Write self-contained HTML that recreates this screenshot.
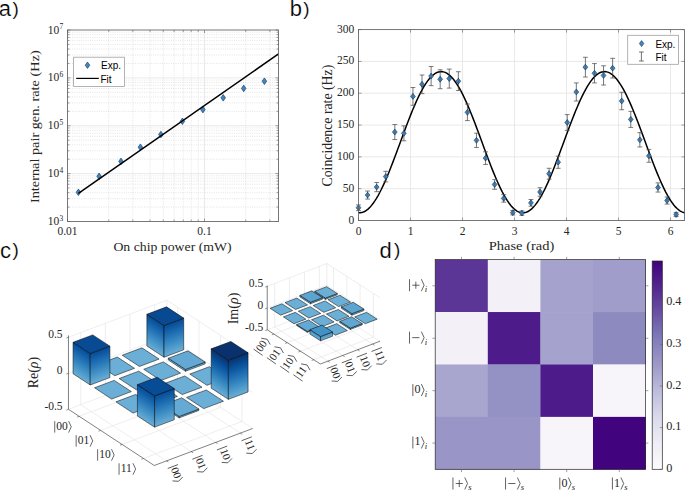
<!DOCTYPE html>
<html><head><meta charset="utf-8"><style>
html,body{margin:0;padding:0;background:#fff;overflow:hidden;}
svg{display:block;}

</style></head><body>
<svg width="685" height="490" viewBox="0 0 685 490">
<text x="-1.20" y="15.80" font-size="22" text-anchor="start" font-family="Liberation Sans, sans-serif" fill="#000"  stroke="#fff" stroke-width="0.2">a</text>
<text x="12.50" y="14.50" font-size="19" text-anchor="start" font-family="Liberation Sans, sans-serif" fill="#000"  stroke="#fff" stroke-width="0.15">)</text>
<text x="289.70" y="15.80" font-size="22" text-anchor="start" font-family="Liberation Sans, sans-serif" fill="#000"  stroke="#fff" stroke-width="0.2">b</text>
<text x="303.20" y="14.50" font-size="19" text-anchor="start" font-family="Liberation Sans, sans-serif" fill="#000"  stroke="#fff" stroke-width="0.15">)</text>
<text x="0.00" y="258.10" font-size="22" text-anchor="start" font-family="Liberation Sans, sans-serif" fill="#000"  stroke="#fff" stroke-width="0.2">c</text>
<text x="12.50" y="256.30" font-size="19" text-anchor="start" font-family="Liberation Sans, sans-serif" fill="#000"  stroke="#fff" stroke-width="0.15">)</text>
<text x="379.50" y="257.60" font-size="22" text-anchor="start" font-family="Liberation Sans, sans-serif" fill="#000"  stroke="#fff" stroke-width="0.2">d</text>
<text x="394.00" y="256.30" font-size="19" text-anchor="start" font-family="Liberation Sans, sans-serif" fill="#000"  stroke="#fff" stroke-width="0.15">)</text>
<line x1="67.50" y1="207.09" x2="278.50" y2="207.09" stroke="#d4d4d4" stroke-width="0.6" stroke-dasharray="1,1.25"/>
<line x1="67.50" y1="198.66" x2="278.50" y2="198.66" stroke="#d4d4d4" stroke-width="0.6" stroke-dasharray="1,1.25"/>
<line x1="67.50" y1="192.68" x2="278.50" y2="192.68" stroke="#d4d4d4" stroke-width="0.6" stroke-dasharray="1,1.25"/>
<line x1="67.50" y1="188.04" x2="278.50" y2="188.04" stroke="#d4d4d4" stroke-width="0.6" stroke-dasharray="1,1.25"/>
<line x1="67.50" y1="184.25" x2="278.50" y2="184.25" stroke="#d4d4d4" stroke-width="0.6" stroke-dasharray="1,1.25"/>
<line x1="67.50" y1="181.04" x2="278.50" y2="181.04" stroke="#d4d4d4" stroke-width="0.6" stroke-dasharray="1,1.25"/>
<line x1="67.50" y1="178.26" x2="278.50" y2="178.26" stroke="#d4d4d4" stroke-width="0.6" stroke-dasharray="1,1.25"/>
<line x1="67.50" y1="175.82" x2="278.50" y2="175.82" stroke="#d4d4d4" stroke-width="0.6" stroke-dasharray="1,1.25"/>
<line x1="67.50" y1="159.21" x2="278.50" y2="159.21" stroke="#d4d4d4" stroke-width="0.6" stroke-dasharray="1,1.25"/>
<line x1="67.50" y1="150.78" x2="278.50" y2="150.78" stroke="#d4d4d4" stroke-width="0.6" stroke-dasharray="1,1.25"/>
<line x1="67.50" y1="144.80" x2="278.50" y2="144.80" stroke="#d4d4d4" stroke-width="0.6" stroke-dasharray="1,1.25"/>
<line x1="67.50" y1="140.16" x2="278.50" y2="140.16" stroke="#d4d4d4" stroke-width="0.6" stroke-dasharray="1,1.25"/>
<line x1="67.50" y1="136.37" x2="278.50" y2="136.37" stroke="#d4d4d4" stroke-width="0.6" stroke-dasharray="1,1.25"/>
<line x1="67.50" y1="133.17" x2="278.50" y2="133.17" stroke="#d4d4d4" stroke-width="0.6" stroke-dasharray="1,1.25"/>
<line x1="67.50" y1="130.39" x2="278.50" y2="130.39" stroke="#d4d4d4" stroke-width="0.6" stroke-dasharray="1,1.25"/>
<line x1="67.50" y1="127.94" x2="278.50" y2="127.94" stroke="#d4d4d4" stroke-width="0.6" stroke-dasharray="1,1.25"/>
<line x1="67.50" y1="111.34" x2="278.50" y2="111.34" stroke="#d4d4d4" stroke-width="0.6" stroke-dasharray="1,1.25"/>
<line x1="67.50" y1="102.91" x2="278.50" y2="102.91" stroke="#d4d4d4" stroke-width="0.6" stroke-dasharray="1,1.25"/>
<line x1="67.50" y1="96.93" x2="278.50" y2="96.93" stroke="#d4d4d4" stroke-width="0.6" stroke-dasharray="1,1.25"/>
<line x1="67.50" y1="92.29" x2="278.50" y2="92.29" stroke="#d4d4d4" stroke-width="0.6" stroke-dasharray="1,1.25"/>
<line x1="67.50" y1="88.50" x2="278.50" y2="88.50" stroke="#d4d4d4" stroke-width="0.6" stroke-dasharray="1,1.25"/>
<line x1="67.50" y1="85.29" x2="278.50" y2="85.29" stroke="#d4d4d4" stroke-width="0.6" stroke-dasharray="1,1.25"/>
<line x1="67.50" y1="82.51" x2="278.50" y2="82.51" stroke="#d4d4d4" stroke-width="0.6" stroke-dasharray="1,1.25"/>
<line x1="67.50" y1="80.07" x2="278.50" y2="80.07" stroke="#d4d4d4" stroke-width="0.6" stroke-dasharray="1,1.25"/>
<line x1="67.50" y1="63.46" x2="278.50" y2="63.46" stroke="#d4d4d4" stroke-width="0.6" stroke-dasharray="1,1.25"/>
<line x1="67.50" y1="55.03" x2="278.50" y2="55.03" stroke="#d4d4d4" stroke-width="0.6" stroke-dasharray="1,1.25"/>
<line x1="67.50" y1="49.05" x2="278.50" y2="49.05" stroke="#d4d4d4" stroke-width="0.6" stroke-dasharray="1,1.25"/>
<line x1="67.50" y1="44.41" x2="278.50" y2="44.41" stroke="#d4d4d4" stroke-width="0.6" stroke-dasharray="1,1.25"/>
<line x1="67.50" y1="40.62" x2="278.50" y2="40.62" stroke="#d4d4d4" stroke-width="0.6" stroke-dasharray="1,1.25"/>
<line x1="67.50" y1="37.42" x2="278.50" y2="37.42" stroke="#d4d4d4" stroke-width="0.6" stroke-dasharray="1,1.25"/>
<line x1="67.50" y1="34.64" x2="278.50" y2="34.64" stroke="#d4d4d4" stroke-width="0.6" stroke-dasharray="1,1.25"/>
<line x1="67.50" y1="32.19" x2="278.50" y2="32.19" stroke="#d4d4d4" stroke-width="0.6" stroke-dasharray="1,1.25"/>
<line x1="108.74" y1="30.00" x2="108.74" y2="221.50" stroke="#d4d4d4" stroke-width="0.6" stroke-dasharray="1,1.25"/>
<line x1="132.87" y1="30.00" x2="132.87" y2="221.50" stroke="#d4d4d4" stroke-width="0.6" stroke-dasharray="1,1.25"/>
<line x1="149.98" y1="30.00" x2="149.98" y2="221.50" stroke="#d4d4d4" stroke-width="0.6" stroke-dasharray="1,1.25"/>
<line x1="163.26" y1="30.00" x2="163.26" y2="221.50" stroke="#d4d4d4" stroke-width="0.6" stroke-dasharray="1,1.25"/>
<line x1="174.11" y1="30.00" x2="174.11" y2="221.50" stroke="#d4d4d4" stroke-width="0.6" stroke-dasharray="1,1.25"/>
<line x1="183.28" y1="30.00" x2="183.28" y2="221.50" stroke="#d4d4d4" stroke-width="0.6" stroke-dasharray="1,1.25"/>
<line x1="191.22" y1="30.00" x2="191.22" y2="221.50" stroke="#d4d4d4" stroke-width="0.6" stroke-dasharray="1,1.25"/>
<line x1="198.23" y1="30.00" x2="198.23" y2="221.50" stroke="#d4d4d4" stroke-width="0.6" stroke-dasharray="1,1.25"/>
<line x1="245.74" y1="30.00" x2="245.74" y2="221.50" stroke="#d4d4d4" stroke-width="0.6" stroke-dasharray="1,1.25"/>
<line x1="269.87" y1="30.00" x2="269.87" y2="221.50" stroke="#d4d4d4" stroke-width="0.6" stroke-dasharray="1,1.25"/>
<line x1="67.50" y1="173.62" x2="278.50" y2="173.62" stroke="#e3e3e3" stroke-width="0.8" />
<line x1="67.50" y1="125.75" x2="278.50" y2="125.75" stroke="#e3e3e3" stroke-width="0.8" />
<line x1="67.50" y1="77.88" x2="278.50" y2="77.88" stroke="#e3e3e3" stroke-width="0.8" />
<line x1="204.50" y1="30.00" x2="204.50" y2="221.50" stroke="#e3e3e3" stroke-width="0.8" />
<line x1="67.50" y1="221.50" x2="70.50" y2="221.50" stroke="#606060" stroke-width="0.6" />
<line x1="278.50" y1="221.50" x2="275.50" y2="221.50" stroke="#606060" stroke-width="0.6" />
<line x1="67.50" y1="207.09" x2="69.50" y2="207.09" stroke="#606060" stroke-width="0.6" />
<line x1="278.50" y1="207.09" x2="276.50" y2="207.09" stroke="#606060" stroke-width="0.6" />
<line x1="67.50" y1="198.66" x2="69.50" y2="198.66" stroke="#606060" stroke-width="0.6" />
<line x1="278.50" y1="198.66" x2="276.50" y2="198.66" stroke="#606060" stroke-width="0.6" />
<line x1="67.50" y1="192.68" x2="69.50" y2="192.68" stroke="#606060" stroke-width="0.6" />
<line x1="278.50" y1="192.68" x2="276.50" y2="192.68" stroke="#606060" stroke-width="0.6" />
<line x1="67.50" y1="188.04" x2="69.50" y2="188.04" stroke="#606060" stroke-width="0.6" />
<line x1="278.50" y1="188.04" x2="276.50" y2="188.04" stroke="#606060" stroke-width="0.6" />
<line x1="67.50" y1="184.25" x2="69.50" y2="184.25" stroke="#606060" stroke-width="0.6" />
<line x1="278.50" y1="184.25" x2="276.50" y2="184.25" stroke="#606060" stroke-width="0.6" />
<line x1="67.50" y1="181.04" x2="69.50" y2="181.04" stroke="#606060" stroke-width="0.6" />
<line x1="278.50" y1="181.04" x2="276.50" y2="181.04" stroke="#606060" stroke-width="0.6" />
<line x1="67.50" y1="178.26" x2="69.50" y2="178.26" stroke="#606060" stroke-width="0.6" />
<line x1="278.50" y1="178.26" x2="276.50" y2="178.26" stroke="#606060" stroke-width="0.6" />
<line x1="67.50" y1="175.82" x2="69.50" y2="175.82" stroke="#606060" stroke-width="0.6" />
<line x1="278.50" y1="175.82" x2="276.50" y2="175.82" stroke="#606060" stroke-width="0.6" />
<line x1="67.50" y1="173.62" x2="70.50" y2="173.62" stroke="#606060" stroke-width="0.6" />
<line x1="278.50" y1="173.62" x2="275.50" y2="173.62" stroke="#606060" stroke-width="0.6" />
<line x1="67.50" y1="159.21" x2="69.50" y2="159.21" stroke="#606060" stroke-width="0.6" />
<line x1="278.50" y1="159.21" x2="276.50" y2="159.21" stroke="#606060" stroke-width="0.6" />
<line x1="67.50" y1="150.78" x2="69.50" y2="150.78" stroke="#606060" stroke-width="0.6" />
<line x1="278.50" y1="150.78" x2="276.50" y2="150.78" stroke="#606060" stroke-width="0.6" />
<line x1="67.50" y1="144.80" x2="69.50" y2="144.80" stroke="#606060" stroke-width="0.6" />
<line x1="278.50" y1="144.80" x2="276.50" y2="144.80" stroke="#606060" stroke-width="0.6" />
<line x1="67.50" y1="140.16" x2="69.50" y2="140.16" stroke="#606060" stroke-width="0.6" />
<line x1="278.50" y1="140.16" x2="276.50" y2="140.16" stroke="#606060" stroke-width="0.6" />
<line x1="67.50" y1="136.37" x2="69.50" y2="136.37" stroke="#606060" stroke-width="0.6" />
<line x1="278.50" y1="136.37" x2="276.50" y2="136.37" stroke="#606060" stroke-width="0.6" />
<line x1="67.50" y1="133.17" x2="69.50" y2="133.17" stroke="#606060" stroke-width="0.6" />
<line x1="278.50" y1="133.17" x2="276.50" y2="133.17" stroke="#606060" stroke-width="0.6" />
<line x1="67.50" y1="130.39" x2="69.50" y2="130.39" stroke="#606060" stroke-width="0.6" />
<line x1="278.50" y1="130.39" x2="276.50" y2="130.39" stroke="#606060" stroke-width="0.6" />
<line x1="67.50" y1="127.94" x2="69.50" y2="127.94" stroke="#606060" stroke-width="0.6" />
<line x1="278.50" y1="127.94" x2="276.50" y2="127.94" stroke="#606060" stroke-width="0.6" />
<line x1="67.50" y1="125.75" x2="70.50" y2="125.75" stroke="#606060" stroke-width="0.6" />
<line x1="278.50" y1="125.75" x2="275.50" y2="125.75" stroke="#606060" stroke-width="0.6" />
<line x1="67.50" y1="111.34" x2="69.50" y2="111.34" stroke="#606060" stroke-width="0.6" />
<line x1="278.50" y1="111.34" x2="276.50" y2="111.34" stroke="#606060" stroke-width="0.6" />
<line x1="67.50" y1="102.91" x2="69.50" y2="102.91" stroke="#606060" stroke-width="0.6" />
<line x1="278.50" y1="102.91" x2="276.50" y2="102.91" stroke="#606060" stroke-width="0.6" />
<line x1="67.50" y1="96.93" x2="69.50" y2="96.93" stroke="#606060" stroke-width="0.6" />
<line x1="278.50" y1="96.93" x2="276.50" y2="96.93" stroke="#606060" stroke-width="0.6" />
<line x1="67.50" y1="92.29" x2="69.50" y2="92.29" stroke="#606060" stroke-width="0.6" />
<line x1="278.50" y1="92.29" x2="276.50" y2="92.29" stroke="#606060" stroke-width="0.6" />
<line x1="67.50" y1="88.50" x2="69.50" y2="88.50" stroke="#606060" stroke-width="0.6" />
<line x1="278.50" y1="88.50" x2="276.50" y2="88.50" stroke="#606060" stroke-width="0.6" />
<line x1="67.50" y1="85.29" x2="69.50" y2="85.29" stroke="#606060" stroke-width="0.6" />
<line x1="278.50" y1="85.29" x2="276.50" y2="85.29" stroke="#606060" stroke-width="0.6" />
<line x1="67.50" y1="82.51" x2="69.50" y2="82.51" stroke="#606060" stroke-width="0.6" />
<line x1="278.50" y1="82.51" x2="276.50" y2="82.51" stroke="#606060" stroke-width="0.6" />
<line x1="67.50" y1="80.07" x2="69.50" y2="80.07" stroke="#606060" stroke-width="0.6" />
<line x1="278.50" y1="80.07" x2="276.50" y2="80.07" stroke="#606060" stroke-width="0.6" />
<line x1="67.50" y1="77.88" x2="70.50" y2="77.88" stroke="#606060" stroke-width="0.6" />
<line x1="278.50" y1="77.88" x2="275.50" y2="77.88" stroke="#606060" stroke-width="0.6" />
<line x1="67.50" y1="63.46" x2="69.50" y2="63.46" stroke="#606060" stroke-width="0.6" />
<line x1="278.50" y1="63.46" x2="276.50" y2="63.46" stroke="#606060" stroke-width="0.6" />
<line x1="67.50" y1="55.03" x2="69.50" y2="55.03" stroke="#606060" stroke-width="0.6" />
<line x1="278.50" y1="55.03" x2="276.50" y2="55.03" stroke="#606060" stroke-width="0.6" />
<line x1="67.50" y1="49.05" x2="69.50" y2="49.05" stroke="#606060" stroke-width="0.6" />
<line x1="278.50" y1="49.05" x2="276.50" y2="49.05" stroke="#606060" stroke-width="0.6" />
<line x1="67.50" y1="44.41" x2="69.50" y2="44.41" stroke="#606060" stroke-width="0.6" />
<line x1="278.50" y1="44.41" x2="276.50" y2="44.41" stroke="#606060" stroke-width="0.6" />
<line x1="67.50" y1="40.62" x2="69.50" y2="40.62" stroke="#606060" stroke-width="0.6" />
<line x1="278.50" y1="40.62" x2="276.50" y2="40.62" stroke="#606060" stroke-width="0.6" />
<line x1="67.50" y1="37.42" x2="69.50" y2="37.42" stroke="#606060" stroke-width="0.6" />
<line x1="278.50" y1="37.42" x2="276.50" y2="37.42" stroke="#606060" stroke-width="0.6" />
<line x1="67.50" y1="34.64" x2="69.50" y2="34.64" stroke="#606060" stroke-width="0.6" />
<line x1="278.50" y1="34.64" x2="276.50" y2="34.64" stroke="#606060" stroke-width="0.6" />
<line x1="67.50" y1="32.19" x2="69.50" y2="32.19" stroke="#606060" stroke-width="0.6" />
<line x1="278.50" y1="32.19" x2="276.50" y2="32.19" stroke="#606060" stroke-width="0.6" />
<line x1="67.50" y1="30.00" x2="70.50" y2="30.00" stroke="#606060" stroke-width="0.6" />
<line x1="278.50" y1="30.00" x2="275.50" y2="30.00" stroke="#606060" stroke-width="0.6" />
<line x1="67.50" y1="221.50" x2="67.50" y2="218.50" stroke="#606060" stroke-width="0.6" />
<line x1="67.50" y1="30.00" x2="67.50" y2="33.00" stroke="#606060" stroke-width="0.6" />
<line x1="108.74" y1="221.50" x2="108.74" y2="219.50" stroke="#606060" stroke-width="0.6" />
<line x1="108.74" y1="30.00" x2="108.74" y2="32.00" stroke="#606060" stroke-width="0.6" />
<line x1="132.87" y1="221.50" x2="132.87" y2="219.50" stroke="#606060" stroke-width="0.6" />
<line x1="132.87" y1="30.00" x2="132.87" y2="32.00" stroke="#606060" stroke-width="0.6" />
<line x1="149.98" y1="221.50" x2="149.98" y2="219.50" stroke="#606060" stroke-width="0.6" />
<line x1="149.98" y1="30.00" x2="149.98" y2="32.00" stroke="#606060" stroke-width="0.6" />
<line x1="163.26" y1="221.50" x2="163.26" y2="219.50" stroke="#606060" stroke-width="0.6" />
<line x1="163.26" y1="30.00" x2="163.26" y2="32.00" stroke="#606060" stroke-width="0.6" />
<line x1="174.11" y1="221.50" x2="174.11" y2="219.50" stroke="#606060" stroke-width="0.6" />
<line x1="174.11" y1="30.00" x2="174.11" y2="32.00" stroke="#606060" stroke-width="0.6" />
<line x1="183.28" y1="221.50" x2="183.28" y2="219.50" stroke="#606060" stroke-width="0.6" />
<line x1="183.28" y1="30.00" x2="183.28" y2="32.00" stroke="#606060" stroke-width="0.6" />
<line x1="191.22" y1="221.50" x2="191.22" y2="219.50" stroke="#606060" stroke-width="0.6" />
<line x1="191.22" y1="30.00" x2="191.22" y2="32.00" stroke="#606060" stroke-width="0.6" />
<line x1="198.23" y1="221.50" x2="198.23" y2="219.50" stroke="#606060" stroke-width="0.6" />
<line x1="198.23" y1="30.00" x2="198.23" y2="32.00" stroke="#606060" stroke-width="0.6" />
<line x1="204.50" y1="221.50" x2="204.50" y2="218.50" stroke="#606060" stroke-width="0.6" />
<line x1="204.50" y1="30.00" x2="204.50" y2="33.00" stroke="#606060" stroke-width="0.6" />
<line x1="245.74" y1="221.50" x2="245.74" y2="219.50" stroke="#606060" stroke-width="0.6" />
<line x1="245.74" y1="30.00" x2="245.74" y2="32.00" stroke="#606060" stroke-width="0.6" />
<line x1="269.87" y1="221.50" x2="269.87" y2="219.50" stroke="#606060" stroke-width="0.6" />
<line x1="269.87" y1="30.00" x2="269.87" y2="32.00" stroke="#606060" stroke-width="0.6" />
<path d="M78.40,189.00 L80.70,192.30 L78.40,195.60 L76.10,192.30 Z" fill="#3b88c8" stroke="#1a3048" stroke-width="0.6"/>
<path d="M99.10,173.00 L101.40,176.30 L99.10,179.60 L96.80,176.30 Z" fill="#3b88c8" stroke="#1a3048" stroke-width="0.6"/>
<path d="M121.00,158.10 L123.30,161.40 L121.00,164.70 L118.70,161.40 Z" fill="#3b88c8" stroke="#1a3048" stroke-width="0.6"/>
<path d="M140.40,143.90 L142.70,147.20 L140.40,150.50 L138.10,147.20 Z" fill="#3b88c8" stroke="#1a3048" stroke-width="0.6"/>
<path d="M160.90,131.20 L163.20,134.50 L160.90,137.80 L158.60,134.50 Z" fill="#3b88c8" stroke="#1a3048" stroke-width="0.6"/>
<path d="M182.40,118.00 L184.70,121.30 L182.40,124.60 L180.10,121.30 Z" fill="#3b88c8" stroke="#1a3048" stroke-width="0.6"/>
<path d="M202.90,106.30 L205.20,109.60 L202.90,112.90 L200.60,109.60 Z" fill="#3b88c8" stroke="#1a3048" stroke-width="0.6"/>
<path d="M223.20,94.50 L225.50,97.80 L223.20,101.10 L220.90,97.80 Z" fill="#3b88c8" stroke="#1a3048" stroke-width="0.6"/>
<path d="M243.70,85.10 L246.00,88.40 L243.70,91.70 L241.40,88.40 Z" fill="#3b88c8" stroke="#1a3048" stroke-width="0.6"/>
<path d="M264.40,77.90 L266.70,81.20 L264.40,84.50 L262.10,81.20 Z" fill="#3b88c8" stroke="#1a3048" stroke-width="0.6"/>
<line x1="78.4" y1="193.3" x2="278.50" y2="53.9" stroke="#000" stroke-width="1.5"/>
<rect x="67.5" y="30.0" width="211.0" height="191.5" fill="none" stroke="#606060" stroke-width="0.85"/>
<rect x="73.6" y="57.2" width="50.8" height="29.2" fill="#fff" stroke="#a0a0a0" stroke-width="0.8"/>
<path d="M87.50,62.00 L89.80,65.20 L87.50,68.40 L85.20,65.20 Z" fill="#3b88c8" stroke="#1a3048" stroke-width="0.6"/>
<line x1="76.20" y1="78.40" x2="98.80" y2="78.40" stroke="#000" stroke-width="1.2" />
<text x="101.00" y="69.20" font-size="10" text-anchor="start" font-family="Liberation Sans, sans-serif" fill="#000"  >Exp.</text>
<text x="100.50" y="82.50" font-size="10" text-anchor="start" font-family="Liberation Sans, sans-serif" fill="#000"  >Fit</text>
<text x="47.80" y="225.10" font-size="11.5" text-anchor="start" font-family="Liberation Serif, serif" fill="#262626" stroke="#262626" stroke-width="0.0" >10</text>
<text x="59.40" y="220.90" font-size="7.5" text-anchor="start" font-family="Liberation Serif, serif" fill="#262626" stroke="#262626" stroke-width="0.0" >3</text>
<text x="47.80" y="177.22" font-size="11.5" text-anchor="start" font-family="Liberation Serif, serif" fill="#262626" stroke="#262626" stroke-width="0.0" >10</text>
<text x="59.40" y="173.03" font-size="7.5" text-anchor="start" font-family="Liberation Serif, serif" fill="#262626" stroke="#262626" stroke-width="0.0" >4</text>
<text x="47.80" y="129.35" font-size="11.5" text-anchor="start" font-family="Liberation Serif, serif" fill="#262626" stroke="#262626" stroke-width="0.0" >10</text>
<text x="59.40" y="125.15" font-size="7.5" text-anchor="start" font-family="Liberation Serif, serif" fill="#262626" stroke="#262626" stroke-width="0.0" >5</text>
<text x="47.80" y="81.47" font-size="11.5" text-anchor="start" font-family="Liberation Serif, serif" fill="#262626" stroke="#262626" stroke-width="0.0" >10</text>
<text x="59.40" y="77.28" font-size="7.5" text-anchor="start" font-family="Liberation Serif, serif" fill="#262626" stroke="#262626" stroke-width="0.0" >6</text>
<text x="47.80" y="33.60" font-size="11.5" text-anchor="start" font-family="Liberation Serif, serif" fill="#262626" stroke="#262626" stroke-width="0.0" >10</text>
<text x="59.40" y="29.40" font-size="7.5" text-anchor="start" font-family="Liberation Serif, serif" fill="#262626" stroke="#262626" stroke-width="0.0" >7</text>
<text x="67.50" y="235.30" font-size="11.5" text-anchor="middle" font-family="Liberation Serif, serif" fill="#262626" stroke="#262626" stroke-width="0.0" >0.01</text>
<text x="204.50" y="235.30" font-size="11.5" text-anchor="middle" font-family="Liberation Serif, serif" fill="#262626" stroke="#262626" stroke-width="0.0" >0.1</text>
<text x="0" y="0" font-size="13.3" text-anchor="middle" font-family="Liberation Serif, serif" fill="#262626" transform="translate(172.50,251.40) rotate(0) scale(1.037,1)">On chip power (mW)</text>
<text x="0" y="0" font-size="13.3" text-anchor="middle" font-family="Liberation Serif, serif" fill="#262626" transform="translate(39.30,126.70) rotate(-90) scale(1.075,1)">Internal pair gen. rate (Hz)</text>
<line x1="358.50" y1="188.68" x2="684.50" y2="188.68" stroke="#e3e3e3" stroke-width="0.8" />
<line x1="358.50" y1="156.87" x2="684.50" y2="156.87" stroke="#e3e3e3" stroke-width="0.8" />
<line x1="358.50" y1="125.05" x2="684.50" y2="125.05" stroke="#e3e3e3" stroke-width="0.8" />
<line x1="358.50" y1="93.23" x2="684.50" y2="93.23" stroke="#e3e3e3" stroke-width="0.8" />
<line x1="358.50" y1="61.42" x2="684.50" y2="61.42" stroke="#e3e3e3" stroke-width="0.8" />
<line x1="410.50" y1="29.60" x2="410.50" y2="220.50" stroke="#e3e3e3" stroke-width="0.8" />
<line x1="462.50" y1="29.60" x2="462.50" y2="220.50" stroke="#e3e3e3" stroke-width="0.8" />
<line x1="514.50" y1="29.60" x2="514.50" y2="220.50" stroke="#e3e3e3" stroke-width="0.8" />
<line x1="566.50" y1="29.60" x2="566.50" y2="220.50" stroke="#e3e3e3" stroke-width="0.8" />
<line x1="618.50" y1="29.60" x2="618.50" y2="220.50" stroke="#e3e3e3" stroke-width="0.8" />
<line x1="670.50" y1="29.60" x2="670.50" y2="220.50" stroke="#e3e3e3" stroke-width="0.8" />
<line x1="358.50" y1="220.50" x2="361.50" y2="220.50" stroke="#606060" stroke-width="0.6" />
<line x1="684.50" y1="220.50" x2="681.50" y2="220.50" stroke="#606060" stroke-width="0.6" />
<line x1="358.50" y1="188.68" x2="361.50" y2="188.68" stroke="#606060" stroke-width="0.6" />
<line x1="684.50" y1="188.68" x2="681.50" y2="188.68" stroke="#606060" stroke-width="0.6" />
<line x1="358.50" y1="156.87" x2="361.50" y2="156.87" stroke="#606060" stroke-width="0.6" />
<line x1="684.50" y1="156.87" x2="681.50" y2="156.87" stroke="#606060" stroke-width="0.6" />
<line x1="358.50" y1="125.05" x2="361.50" y2="125.05" stroke="#606060" stroke-width="0.6" />
<line x1="684.50" y1="125.05" x2="681.50" y2="125.05" stroke="#606060" stroke-width="0.6" />
<line x1="358.50" y1="93.23" x2="361.50" y2="93.23" stroke="#606060" stroke-width="0.6" />
<line x1="684.50" y1="93.23" x2="681.50" y2="93.23" stroke="#606060" stroke-width="0.6" />
<line x1="358.50" y1="61.42" x2="361.50" y2="61.42" stroke="#606060" stroke-width="0.6" />
<line x1="684.50" y1="61.42" x2="681.50" y2="61.42" stroke="#606060" stroke-width="0.6" />
<line x1="358.50" y1="29.60" x2="361.50" y2="29.60" stroke="#606060" stroke-width="0.6" />
<line x1="684.50" y1="29.60" x2="681.50" y2="29.60" stroke="#606060" stroke-width="0.6" />
<line x1="358.50" y1="220.50" x2="358.50" y2="217.50" stroke="#606060" stroke-width="0.6" />
<line x1="358.50" y1="29.60" x2="358.50" y2="32.60" stroke="#606060" stroke-width="0.6" />
<line x1="410.50" y1="220.50" x2="410.50" y2="217.50" stroke="#606060" stroke-width="0.6" />
<line x1="410.50" y1="29.60" x2="410.50" y2="32.60" stroke="#606060" stroke-width="0.6" />
<line x1="462.50" y1="220.50" x2="462.50" y2="217.50" stroke="#606060" stroke-width="0.6" />
<line x1="462.50" y1="29.60" x2="462.50" y2="32.60" stroke="#606060" stroke-width="0.6" />
<line x1="514.50" y1="220.50" x2="514.50" y2="217.50" stroke="#606060" stroke-width="0.6" />
<line x1="514.50" y1="29.60" x2="514.50" y2="32.60" stroke="#606060" stroke-width="0.6" />
<line x1="566.50" y1="220.50" x2="566.50" y2="217.50" stroke="#606060" stroke-width="0.6" />
<line x1="566.50" y1="29.60" x2="566.50" y2="32.60" stroke="#606060" stroke-width="0.6" />
<line x1="618.50" y1="220.50" x2="618.50" y2="217.50" stroke="#606060" stroke-width="0.6" />
<line x1="618.50" y1="29.60" x2="618.50" y2="32.60" stroke="#606060" stroke-width="0.6" />
<line x1="670.50" y1="220.50" x2="670.50" y2="217.50" stroke="#606060" stroke-width="0.6" />
<line x1="670.50" y1="29.60" x2="670.50" y2="32.60" stroke="#606060" stroke-width="0.6" />
<polyline points="358.50,212.81 360.13,212.84 361.77,212.59 363.40,212.07 365.03,211.26 366.67,210.19 368.30,208.84 369.94,207.24 371.57,205.38 373.20,203.26 374.84,200.91 376.47,198.33 378.10,195.52 379.74,192.50 381.37,189.29 383.00,185.89 384.64,182.32 386.27,178.59 387.91,174.71 389.54,170.71 391.17,166.59 392.81,162.38 394.44,158.09 396.07,153.74 397.71,149.34 399.34,144.91 400.97,140.48 402.61,136.05 404.24,131.64 405.88,127.28 407.51,122.97 409.14,118.74 410.78,114.61 412.41,110.58 414.04,106.68 415.68,102.91 417.31,99.31 418.94,95.87 420.58,92.62 422.21,89.56 423.85,86.71 425.48,84.07 427.11,81.67 428.75,79.51 430.38,77.59 432.01,75.93 433.65,74.53 435.28,73.40 436.91,72.54 438.55,71.96 440.18,71.65 441.82,71.62 443.45,71.87 445.08,72.40 446.72,73.20 448.35,74.27 449.98,75.62 451.62,77.22 453.25,79.09 454.88,81.20 456.52,83.55 458.15,86.14 459.78,88.94 461.42,91.96 463.05,95.17 464.69,98.57 466.32,102.15 467.95,105.88 469.59,109.75 471.22,113.75 472.85,117.87 474.49,122.08 476.12,126.37 477.75,130.72 479.39,135.12 481.02,139.55 482.66,143.98 484.29,148.42 485.92,152.82 487.56,157.18 489.19,161.49 490.82,165.72 492.46,169.86 494.09,173.88 495.72,177.79 497.36,181.55 498.99,185.15 500.63,188.59 502.26,191.85 503.89,194.90 505.53,197.76 507.16,200.39 508.79,202.79 510.43,204.95 512.06,206.87 513.69,208.53 515.33,209.93 516.96,211.06 518.60,211.92 520.23,212.51 521.86,212.81 523.50,212.84 525.13,212.59 526.76,212.07 528.40,211.26 530.03,210.19 531.66,208.84 533.30,207.24 534.93,205.38 536.57,203.26 538.20,200.91 539.83,198.33 541.47,195.52 543.10,192.50 544.73,189.29 546.37,185.89 548.00,182.32 549.63,178.59 551.27,174.71 552.90,170.71 554.54,166.59 556.17,162.38 557.80,158.09 559.44,153.74 561.07,149.34 562.70,144.91 564.34,140.48 565.97,136.05 567.60,131.64 569.24,127.28 570.87,122.97 572.51,118.74 574.14,114.61 575.77,110.58 577.41,106.68 579.04,102.91 580.67,99.31 582.31,95.87 583.94,92.62 585.57,89.56 587.21,86.71 588.84,84.07 590.48,81.67 592.11,79.51 593.74,77.59 595.38,75.93 597.01,74.53 598.64,73.40 600.28,72.54 601.91,71.96 603.54,71.65 605.18,71.62 606.81,71.87 608.45,72.40 610.08,73.20 611.71,74.27 613.35,75.62 614.98,77.22 616.61,79.09 618.25,81.20 619.88,83.55 621.51,86.14 623.15,88.94 624.78,91.96 626.42,95.17 628.05,98.57 629.68,102.15 631.32,105.88 632.95,109.75 634.58,113.75 636.22,117.87 637.85,122.08 639.48,126.37 641.12,130.72 642.75,135.12 644.38,139.55 646.02,143.98 647.65,148.42 649.29,152.82 650.92,157.18 652.55,161.49 654.19,165.72 655.82,169.86 657.45,173.88 659.09,177.79 660.72,181.55 662.35,185.15 663.99,188.59 665.62,191.85 667.26,194.90 668.89,197.76 670.52,200.39 672.16,202.79 673.79,204.95 675.42,206.87 677.06,208.53 678.69,209.93 680.32,211.06 681.96,211.92 683.59,212.51 685.23,212.81" fill="none" stroke="#000" stroke-width="1.5"/>
<line x1="358.50" y1="204.93" x2="358.50" y2="210.62" stroke="#3a3a3a" stroke-width="0.7" />
<line x1="356.10" y1="204.93" x2="360.90" y2="204.93" stroke="#505050" stroke-width="0.75" />
<line x1="356.10" y1="210.62" x2="360.90" y2="210.62" stroke="#505050" stroke-width="0.75" />
<path d="M358.50,204.87 L360.90,207.77 L358.50,210.67 L356.10,207.77 Z" fill="#3b88c8" stroke="#1a3048" stroke-width="0.6"/>
<line x1="358.50" y1="204.87" x2="358.50" y2="210.67" stroke="#303030" stroke-width="0.6" opacity="0.5"/>
<line x1="367.58" y1="191.02" x2="367.58" y2="199.07" stroke="#3a3a3a" stroke-width="0.7" />
<line x1="365.18" y1="191.02" x2="369.98" y2="191.02" stroke="#505050" stroke-width="0.75" />
<line x1="365.18" y1="199.07" x2="369.98" y2="199.07" stroke="#505050" stroke-width="0.75" />
<path d="M367.58,192.15 L369.98,195.05 L367.58,197.95 L365.18,195.05 Z" fill="#3b88c8" stroke="#1a3048" stroke-width="0.6"/>
<line x1="367.58" y1="192.15" x2="367.58" y2="197.95" stroke="#303030" stroke-width="0.6" opacity="0.5"/>
<line x1="376.65" y1="182.48" x2="376.65" y2="191.70" stroke="#3a3a3a" stroke-width="0.7" />
<line x1="374.25" y1="182.48" x2="379.05" y2="182.48" stroke="#505050" stroke-width="0.75" />
<line x1="374.25" y1="191.70" x2="379.05" y2="191.70" stroke="#505050" stroke-width="0.75" />
<path d="M376.65,184.19 L379.05,187.09 L376.65,189.99 L374.25,187.09 Z" fill="#3b88c8" stroke="#1a3048" stroke-width="0.6"/>
<line x1="376.65" y1="184.19" x2="376.65" y2="189.99" stroke="#303030" stroke-width="0.6" opacity="0.5"/>
<line x1="385.73" y1="171.31" x2="385.73" y2="181.88" stroke="#3a3a3a" stroke-width="0.7" />
<line x1="383.33" y1="171.31" x2="388.13" y2="171.31" stroke="#505050" stroke-width="0.75" />
<line x1="383.33" y1="181.88" x2="388.13" y2="181.88" stroke="#505050" stroke-width="0.75" />
<path d="M385.73,173.69 L388.13,176.59 L385.73,179.49 L383.33,176.59 Z" fill="#3b88c8" stroke="#1a3048" stroke-width="0.6"/>
<line x1="385.73" y1="173.69" x2="385.73" y2="179.49" stroke="#303030" stroke-width="0.6" opacity="0.5"/>
<line x1="394.80" y1="124.55" x2="394.80" y2="139.55" stroke="#3a3a3a" stroke-width="0.7" />
<line x1="392.40" y1="124.55" x2="397.20" y2="124.55" stroke="#505050" stroke-width="0.75" />
<line x1="392.40" y1="139.55" x2="397.20" y2="139.55" stroke="#505050" stroke-width="0.75" />
<path d="M394.80,129.15 L397.20,132.05 L394.80,134.95 L392.40,132.05 Z" fill="#3b88c8" stroke="#1a3048" stroke-width="0.6"/>
<line x1="394.80" y1="129.15" x2="394.80" y2="134.95" stroke="#303030" stroke-width="0.6" opacity="0.5"/>
<line x1="403.88" y1="125.87" x2="403.88" y2="140.77" stroke="#3a3a3a" stroke-width="0.7" />
<line x1="401.48" y1="125.87" x2="406.28" y2="125.87" stroke="#505050" stroke-width="0.75" />
<line x1="401.48" y1="140.77" x2="406.28" y2="140.77" stroke="#505050" stroke-width="0.75" />
<path d="M403.88,130.42 L406.28,133.32 L403.88,136.22 L401.48,133.32 Z" fill="#3b88c8" stroke="#1a3048" stroke-width="0.6"/>
<line x1="403.88" y1="130.42" x2="403.88" y2="136.22" stroke="#303030" stroke-width="0.6" opacity="0.5"/>
<line x1="412.95" y1="87.53" x2="412.95" y2="105.30" stroke="#3a3a3a" stroke-width="0.7" />
<line x1="410.55" y1="87.53" x2="415.35" y2="87.53" stroke="#505050" stroke-width="0.75" />
<line x1="410.55" y1="105.30" x2="415.35" y2="105.30" stroke="#505050" stroke-width="0.75" />
<path d="M412.95,93.52 L415.35,96.42 L412.95,99.32 L410.55,96.42 Z" fill="#3b88c8" stroke="#1a3048" stroke-width="0.6"/>
<line x1="412.95" y1="93.52" x2="412.95" y2="99.32" stroke="#303030" stroke-width="0.6" opacity="0.5"/>
<line x1="422.03" y1="75.02" x2="422.03" y2="93.63" stroke="#3a3a3a" stroke-width="0.7" />
<line x1="419.63" y1="75.02" x2="424.43" y2="75.02" stroke="#505050" stroke-width="0.75" />
<line x1="419.63" y1="93.63" x2="424.43" y2="93.63" stroke="#505050" stroke-width="0.75" />
<path d="M422.03,81.42 L424.43,84.32 L422.03,87.22 L419.63,84.32 Z" fill="#3b88c8" stroke="#1a3048" stroke-width="0.6"/>
<line x1="422.03" y1="81.42" x2="422.03" y2="87.22" stroke="#303030" stroke-width="0.6" opacity="0.5"/>
<line x1="431.11" y1="66.47" x2="431.11" y2="85.64" stroke="#3a3a3a" stroke-width="0.7" />
<line x1="428.71" y1="66.47" x2="433.51" y2="66.47" stroke="#505050" stroke-width="0.75" />
<line x1="428.71" y1="85.64" x2="433.51" y2="85.64" stroke="#505050" stroke-width="0.75" />
<path d="M431.11,73.15 L433.51,76.05 L431.11,78.95 L428.71,76.05 Z" fill="#3b88c8" stroke="#1a3048" stroke-width="0.6"/>
<line x1="431.11" y1="73.15" x2="431.11" y2="78.95" stroke="#303030" stroke-width="0.6" opacity="0.5"/>
<line x1="440.18" y1="69.75" x2="440.18" y2="88.72" stroke="#3a3a3a" stroke-width="0.7" />
<line x1="437.78" y1="69.75" x2="442.58" y2="69.75" stroke="#505050" stroke-width="0.75" />
<line x1="437.78" y1="88.72" x2="442.58" y2="88.72" stroke="#505050" stroke-width="0.75" />
<path d="M440.18,76.33 L442.58,79.23 L440.18,82.13 L437.78,79.23 Z" fill="#3b88c8" stroke="#1a3048" stroke-width="0.6"/>
<line x1="440.18" y1="76.33" x2="440.18" y2="82.13" stroke="#303030" stroke-width="0.6" opacity="0.5"/>
<line x1="449.26" y1="69.10" x2="449.26" y2="88.10" stroke="#3a3a3a" stroke-width="0.7" />
<line x1="446.86" y1="69.10" x2="451.66" y2="69.10" stroke="#505050" stroke-width="0.75" />
<line x1="446.86" y1="88.10" x2="451.66" y2="88.10" stroke="#505050" stroke-width="0.75" />
<path d="M449.26,75.70 L451.66,78.60 L449.26,81.50 L446.86,78.60 Z" fill="#3b88c8" stroke="#1a3048" stroke-width="0.6"/>
<line x1="449.26" y1="75.70" x2="449.26" y2="81.50" stroke="#303030" stroke-width="0.6" opacity="0.5"/>
<line x1="458.33" y1="71.73" x2="458.33" y2="90.56" stroke="#3a3a3a" stroke-width="0.7" />
<line x1="455.93" y1="71.73" x2="460.73" y2="71.73" stroke="#505050" stroke-width="0.75" />
<line x1="455.93" y1="90.56" x2="460.73" y2="90.56" stroke="#505050" stroke-width="0.75" />
<path d="M458.33,78.24 L460.73,81.14 L458.33,84.04 L455.93,81.14 Z" fill="#3b88c8" stroke="#1a3048" stroke-width="0.6"/>
<line x1="458.33" y1="78.24" x2="458.33" y2="84.04" stroke="#303030" stroke-width="0.6" opacity="0.5"/>
<line x1="467.41" y1="104.03" x2="467.41" y2="120.62" stroke="#3a3a3a" stroke-width="0.7" />
<line x1="465.01" y1="104.03" x2="469.81" y2="104.03" stroke="#505050" stroke-width="0.75" />
<line x1="465.01" y1="120.62" x2="469.81" y2="120.62" stroke="#505050" stroke-width="0.75" />
<path d="M467.41,109.42 L469.81,112.32 L467.41,115.22 L465.01,112.32 Z" fill="#3b88c8" stroke="#1a3048" stroke-width="0.6"/>
<line x1="467.41" y1="109.42" x2="467.41" y2="115.22" stroke="#303030" stroke-width="0.6" opacity="0.5"/>
<line x1="476.48" y1="133.18" x2="476.48" y2="147.46" stroke="#3a3a3a" stroke-width="0.7" />
<line x1="474.08" y1="133.18" x2="478.88" y2="133.18" stroke="#505050" stroke-width="0.75" />
<line x1="474.08" y1="147.46" x2="478.88" y2="147.46" stroke="#505050" stroke-width="0.75" />
<path d="M476.48,137.42 L478.88,140.32 L476.48,143.22 L474.08,140.32 Z" fill="#3b88c8" stroke="#1a3048" stroke-width="0.6"/>
<line x1="476.48" y1="137.42" x2="476.48" y2="143.22" stroke="#303030" stroke-width="0.6" opacity="0.5"/>
<line x1="485.56" y1="151.84" x2="485.56" y2="164.44" stroke="#3a3a3a" stroke-width="0.7" />
<line x1="483.16" y1="151.84" x2="487.96" y2="151.84" stroke="#505050" stroke-width="0.75" />
<line x1="483.16" y1="164.44" x2="487.96" y2="164.44" stroke="#505050" stroke-width="0.75" />
<path d="M485.56,155.24 L487.96,158.14 L485.56,161.04 L483.16,158.14 Z" fill="#3b88c8" stroke="#1a3048" stroke-width="0.6"/>
<line x1="485.56" y1="155.24" x2="485.56" y2="161.04" stroke="#303030" stroke-width="0.6" opacity="0.5"/>
<line x1="494.64" y1="179.70" x2="494.64" y2="189.27" stroke="#3a3a3a" stroke-width="0.7" />
<line x1="492.24" y1="179.70" x2="497.04" y2="179.70" stroke="#505050" stroke-width="0.75" />
<line x1="492.24" y1="189.27" x2="497.04" y2="189.27" stroke="#505050" stroke-width="0.75" />
<path d="M494.64,181.58 L497.04,184.48 L494.64,187.38 L492.24,184.48 Z" fill="#3b88c8" stroke="#1a3048" stroke-width="0.6"/>
<line x1="494.64" y1="181.58" x2="494.64" y2="187.38" stroke="#303030" stroke-width="0.6" opacity="0.5"/>
<line x1="503.71" y1="194.67" x2="503.71" y2="202.17" stroke="#3a3a3a" stroke-width="0.7" />
<line x1="501.31" y1="194.67" x2="506.11" y2="194.67" stroke="#505050" stroke-width="0.75" />
<line x1="501.31" y1="202.17" x2="506.11" y2="202.17" stroke="#505050" stroke-width="0.75" />
<path d="M503.71,195.52 L506.11,198.42 L503.71,201.32 L501.31,198.42 Z" fill="#3b88c8" stroke="#1a3048" stroke-width="0.6"/>
<line x1="503.71" y1="195.52" x2="503.71" y2="201.32" stroke="#303030" stroke-width="0.6" opacity="0.5"/>
<line x1="512.79" y1="210.44" x2="512.79" y2="214.90" stroke="#3a3a3a" stroke-width="0.7" />
<line x1="510.39" y1="210.44" x2="515.19" y2="210.44" stroke="#505050" stroke-width="0.75" />
<line x1="510.39" y1="214.90" x2="515.19" y2="214.90" stroke="#505050" stroke-width="0.75" />
<path d="M512.79,209.77 L515.19,212.67 L512.79,215.57 L510.39,212.67 Z" fill="#3b88c8" stroke="#1a3048" stroke-width="0.6"/>
<line x1="512.79" y1="209.77" x2="512.79" y2="215.57" stroke="#303030" stroke-width="0.6" opacity="0.5"/>
<line x1="521.86" y1="210.95" x2="521.86" y2="215.29" stroke="#3a3a3a" stroke-width="0.7" />
<line x1="519.46" y1="210.95" x2="524.26" y2="210.95" stroke="#505050" stroke-width="0.75" />
<line x1="519.46" y1="215.29" x2="524.26" y2="215.29" stroke="#505050" stroke-width="0.75" />
<path d="M521.86,210.22 L524.26,213.12 L521.86,216.02 L519.46,213.12 Z" fill="#3b88c8" stroke="#1a3048" stroke-width="0.6"/>
<line x1="521.86" y1="210.22" x2="521.86" y2="216.02" stroke="#303030" stroke-width="0.6" opacity="0.5"/>
<line x1="530.94" y1="199.52" x2="530.94" y2="206.22" stroke="#3a3a3a" stroke-width="0.7" />
<line x1="528.54" y1="199.52" x2="533.34" y2="199.52" stroke="#505050" stroke-width="0.75" />
<line x1="528.54" y1="206.22" x2="533.34" y2="206.22" stroke="#505050" stroke-width="0.75" />
<path d="M530.94,199.97 L533.34,202.87 L530.94,205.77 L528.54,202.87 Z" fill="#3b88c8" stroke="#1a3048" stroke-width="0.6"/>
<line x1="530.94" y1="199.97" x2="530.94" y2="205.77" stroke="#303030" stroke-width="0.6" opacity="0.5"/>
<line x1="540.01" y1="187.73" x2="540.01" y2="196.25" stroke="#3a3a3a" stroke-width="0.7" />
<line x1="537.61" y1="187.73" x2="542.41" y2="187.73" stroke="#505050" stroke-width="0.75" />
<line x1="537.61" y1="196.25" x2="542.41" y2="196.25" stroke="#505050" stroke-width="0.75" />
<path d="M540.01,189.09 L542.41,191.99 L540.01,194.89 L537.61,191.99 Z" fill="#3b88c8" stroke="#1a3048" stroke-width="0.6"/>
<line x1="540.01" y1="189.09" x2="540.01" y2="194.89" stroke="#303030" stroke-width="0.6" opacity="0.5"/>
<line x1="549.09" y1="168.27" x2="549.09" y2="179.18" stroke="#3a3a3a" stroke-width="0.7" />
<line x1="546.69" y1="168.27" x2="551.49" y2="168.27" stroke="#505050" stroke-width="0.75" />
<line x1="546.69" y1="179.18" x2="551.49" y2="179.18" stroke="#505050" stroke-width="0.75" />
<path d="M549.09,170.83 L551.49,173.73 L549.09,176.63 L546.69,173.73 Z" fill="#3b88c8" stroke="#1a3048" stroke-width="0.6"/>
<line x1="549.09" y1="170.83" x2="549.09" y2="176.63" stroke="#303030" stroke-width="0.6" opacity="0.5"/>
<line x1="558.17" y1="156.12" x2="558.17" y2="168.30" stroke="#3a3a3a" stroke-width="0.7" />
<line x1="555.77" y1="156.12" x2="560.57" y2="156.12" stroke="#505050" stroke-width="0.75" />
<line x1="555.77" y1="168.30" x2="560.57" y2="168.30" stroke="#505050" stroke-width="0.75" />
<path d="M558.17,159.31 L560.57,162.21 L558.17,165.11 L555.77,162.21 Z" fill="#3b88c8" stroke="#1a3048" stroke-width="0.6"/>
<line x1="558.17" y1="159.31" x2="558.17" y2="165.11" stroke="#303030" stroke-width="0.6" opacity="0.5"/>
<line x1="567.24" y1="114.61" x2="567.24" y2="130.40" stroke="#3a3a3a" stroke-width="0.7" />
<line x1="564.84" y1="114.61" x2="569.64" y2="114.61" stroke="#505050" stroke-width="0.75" />
<line x1="564.84" y1="130.40" x2="569.64" y2="130.40" stroke="#505050" stroke-width="0.75" />
<path d="M567.24,119.60 L569.64,122.50 L567.24,125.40 L564.84,122.50 Z" fill="#3b88c8" stroke="#1a3048" stroke-width="0.6"/>
<line x1="567.24" y1="119.60" x2="567.24" y2="125.40" stroke="#303030" stroke-width="0.6" opacity="0.5"/>
<line x1="576.32" y1="82.92" x2="576.32" y2="101.00" stroke="#3a3a3a" stroke-width="0.7" />
<line x1="573.92" y1="82.92" x2="578.72" y2="82.92" stroke="#505050" stroke-width="0.75" />
<line x1="573.92" y1="101.00" x2="578.72" y2="101.00" stroke="#505050" stroke-width="0.75" />
<path d="M576.32,89.06 L578.72,91.96 L576.32,94.86 L573.92,91.96 Z" fill="#3b88c8" stroke="#1a3048" stroke-width="0.6"/>
<line x1="576.32" y1="89.06" x2="576.32" y2="94.86" stroke="#303030" stroke-width="0.6" opacity="0.5"/>
<line x1="585.39" y1="57.27" x2="585.39" y2="77.02" stroke="#3a3a3a" stroke-width="0.7" />
<line x1="582.99" y1="57.27" x2="587.79" y2="57.27" stroke="#505050" stroke-width="0.75" />
<line x1="582.99" y1="77.02" x2="587.79" y2="77.02" stroke="#505050" stroke-width="0.75" />
<path d="M585.39,64.24 L587.79,67.14 L585.39,70.04 L582.99,67.14 Z" fill="#3b88c8" stroke="#1a3048" stroke-width="0.6"/>
<line x1="585.39" y1="64.24" x2="585.39" y2="70.04" stroke="#303030" stroke-width="0.6" opacity="0.5"/>
<line x1="594.47" y1="63.57" x2="594.47" y2="82.93" stroke="#3a3a3a" stroke-width="0.7" />
<line x1="592.07" y1="63.57" x2="596.87" y2="63.57" stroke="#505050" stroke-width="0.75" />
<line x1="592.07" y1="82.93" x2="596.87" y2="82.93" stroke="#505050" stroke-width="0.75" />
<path d="M594.47,70.35 L596.87,73.25 L594.47,76.15 L592.07,73.25 Z" fill="#3b88c8" stroke="#1a3048" stroke-width="0.6"/>
<line x1="594.47" y1="70.35" x2="594.47" y2="76.15" stroke="#303030" stroke-width="0.6" opacity="0.5"/>
<line x1="603.54" y1="65.81" x2="603.54" y2="85.02" stroke="#3a3a3a" stroke-width="0.7" />
<line x1="601.14" y1="65.81" x2="605.94" y2="65.81" stroke="#505050" stroke-width="0.75" />
<line x1="601.14" y1="85.02" x2="605.94" y2="85.02" stroke="#505050" stroke-width="0.75" />
<path d="M603.54,72.52 L605.94,75.42 L603.54,78.32 L601.14,75.42 Z" fill="#3b88c8" stroke="#1a3048" stroke-width="0.6"/>
<line x1="603.54" y1="72.52" x2="603.54" y2="78.32" stroke="#303030" stroke-width="0.6" opacity="0.5"/>
<line x1="612.62" y1="58.32" x2="612.62" y2="78.01" stroke="#3a3a3a" stroke-width="0.7" />
<line x1="610.22" y1="58.32" x2="615.02" y2="58.32" stroke="#505050" stroke-width="0.75" />
<line x1="610.22" y1="78.01" x2="615.02" y2="78.01" stroke="#505050" stroke-width="0.75" />
<path d="M612.62,65.26 L615.02,68.16 L612.62,71.06 L610.22,68.16 Z" fill="#3b88c8" stroke="#1a3048" stroke-width="0.6"/>
<line x1="612.62" y1="65.26" x2="612.62" y2="71.06" stroke="#303030" stroke-width="0.6" opacity="0.5"/>
<line x1="621.70" y1="92.28" x2="621.70" y2="109.72" stroke="#3a3a3a" stroke-width="0.7" />
<line x1="619.30" y1="92.28" x2="624.10" y2="92.28" stroke="#505050" stroke-width="0.75" />
<line x1="619.30" y1="109.72" x2="624.10" y2="109.72" stroke="#505050" stroke-width="0.75" />
<path d="M621.70,98.10 L624.10,101.00 L621.70,103.90 L619.30,101.00 Z" fill="#3b88c8" stroke="#1a3048" stroke-width="0.6"/>
<line x1="621.70" y1="98.10" x2="621.70" y2="103.90" stroke="#303030" stroke-width="0.6" opacity="0.5"/>
<line x1="630.77" y1="111.37" x2="630.77" y2="127.41" stroke="#3a3a3a" stroke-width="0.7" />
<line x1="628.37" y1="111.37" x2="633.17" y2="111.37" stroke="#505050" stroke-width="0.75" />
<line x1="628.37" y1="127.41" x2="633.17" y2="127.41" stroke="#505050" stroke-width="0.75" />
<path d="M630.77,116.49 L633.17,119.39 L630.77,122.29 L628.37,119.39 Z" fill="#3b88c8" stroke="#1a3048" stroke-width="0.6"/>
<line x1="630.77" y1="116.49" x2="630.77" y2="122.29" stroke="#303030" stroke-width="0.6" opacity="0.5"/>
<line x1="639.85" y1="132.65" x2="639.85" y2="146.98" stroke="#3a3a3a" stroke-width="0.7" />
<line x1="637.45" y1="132.65" x2="642.25" y2="132.65" stroke="#505050" stroke-width="0.75" />
<line x1="637.45" y1="146.98" x2="642.25" y2="146.98" stroke="#505050" stroke-width="0.75" />
<path d="M639.85,136.91 L642.25,139.81 L639.85,142.71 L637.45,139.81 Z" fill="#3b88c8" stroke="#1a3048" stroke-width="0.6"/>
<line x1="639.85" y1="136.91" x2="639.85" y2="142.71" stroke="#303030" stroke-width="0.6" opacity="0.5"/>
<line x1="648.92" y1="149.43" x2="648.92" y2="162.26" stroke="#3a3a3a" stroke-width="0.7" />
<line x1="646.52" y1="149.43" x2="651.32" y2="149.43" stroke="#505050" stroke-width="0.75" />
<line x1="646.52" y1="162.26" x2="651.32" y2="162.26" stroke="#505050" stroke-width="0.75" />
<path d="M648.92,152.95 L651.32,155.85 L648.92,158.75 L646.52,155.85 Z" fill="#3b88c8" stroke="#1a3048" stroke-width="0.6"/>
<line x1="648.92" y1="152.95" x2="648.92" y2="158.75" stroke="#303030" stroke-width="0.6" opacity="0.5"/>
<line x1="658.00" y1="182.89" x2="658.00" y2="192.06" stroke="#3a3a3a" stroke-width="0.7" />
<line x1="655.60" y1="182.89" x2="660.40" y2="182.89" stroke="#505050" stroke-width="0.75" />
<line x1="655.60" y1="192.06" x2="660.40" y2="192.06" stroke="#505050" stroke-width="0.75" />
<path d="M658.00,184.57 L660.40,187.47 L658.00,190.37 L655.60,187.47 Z" fill="#3b88c8" stroke="#1a3048" stroke-width="0.6"/>
<line x1="658.00" y1="184.57" x2="658.00" y2="190.37" stroke="#303030" stroke-width="0.6" opacity="0.5"/>
<line x1="667.07" y1="196.95" x2="667.07" y2="204.08" stroke="#3a3a3a" stroke-width="0.7" />
<line x1="664.67" y1="196.95" x2="669.47" y2="196.95" stroke="#505050" stroke-width="0.75" />
<line x1="664.67" y1="204.08" x2="669.47" y2="204.08" stroke="#505050" stroke-width="0.75" />
<path d="M667.07,197.62 L669.47,200.52 L667.07,203.42 L664.67,200.52 Z" fill="#3b88c8" stroke="#1a3048" stroke-width="0.6"/>
<line x1="667.07" y1="197.62" x2="667.07" y2="203.42" stroke="#303030" stroke-width="0.6" opacity="0.5"/>
<line x1="676.15" y1="212.57" x2="676.15" y2="216.47" stroke="#3a3a3a" stroke-width="0.7" />
<line x1="673.75" y1="212.57" x2="678.55" y2="212.57" stroke="#505050" stroke-width="0.75" />
<line x1="673.75" y1="216.47" x2="678.55" y2="216.47" stroke="#505050" stroke-width="0.75" />
<path d="M676.15,211.62 L678.55,214.52 L676.15,217.42 L673.75,214.52 Z" fill="#3b88c8" stroke="#1a3048" stroke-width="0.6"/>
<line x1="676.15" y1="211.62" x2="676.15" y2="217.42" stroke="#303030" stroke-width="0.6" opacity="0.5"/>
<rect x="358.5" y="29.6" width="326.0" height="190.9" fill="none" stroke="#606060" stroke-width="0.85"/>
<rect x="627.7" y="35.3" width="50.8" height="29" fill="#fff" stroke="#a0a0a0" stroke-width="0.8"/>
<path d="M641.60,40.60 L643.80,43.60 L641.60,46.60 L639.40,43.60 Z" fill="#3b88c8" stroke="#1a3048" stroke-width="0.6"/>
<line x1="641.40" y1="52.00" x2="641.40" y2="61.00" stroke="#505050" stroke-width="0.8" />
<line x1="639.00" y1="52.00" x2="643.80" y2="52.00" stroke="#505050" stroke-width="0.8" />
<line x1="639.00" y1="61.00" x2="643.80" y2="61.00" stroke="#505050" stroke-width="0.8" />
<text x="655.40" y="48.20" font-size="10" text-anchor="start" font-family="Liberation Sans, sans-serif" fill="#000"  >Exp.</text>
<text x="655.40" y="61.30" font-size="10" text-anchor="start" font-family="Liberation Sans, sans-serif" fill="#000"  >Fit</text>
<text x="354.20" y="223.50" font-size="11.5" text-anchor="end" font-family="Liberation Serif, serif" fill="#262626" stroke="#262626" stroke-width="0.0" >0</text>
<text x="354.20" y="191.68" font-size="11.5" text-anchor="end" font-family="Liberation Serif, serif" fill="#262626" stroke="#262626" stroke-width="0.0" >50</text>
<text x="354.20" y="159.87" font-size="11.5" text-anchor="end" font-family="Liberation Serif, serif" fill="#262626" stroke="#262626" stroke-width="0.0" >100</text>
<text x="354.20" y="128.05" font-size="11.5" text-anchor="end" font-family="Liberation Serif, serif" fill="#262626" stroke="#262626" stroke-width="0.0" >150</text>
<text x="354.20" y="96.23" font-size="11.5" text-anchor="end" font-family="Liberation Serif, serif" fill="#262626" stroke="#262626" stroke-width="0.0" >200</text>
<text x="354.20" y="64.42" font-size="11.5" text-anchor="end" font-family="Liberation Serif, serif" fill="#262626" stroke="#262626" stroke-width="0.0" >250</text>
<text x="354.20" y="32.60" font-size="11.5" text-anchor="end" font-family="Liberation Serif, serif" fill="#262626" stroke="#262626" stroke-width="0.0" >300</text>
<text x="358.50" y="235.30" font-size="11.5" text-anchor="middle" font-family="Liberation Serif, serif" fill="#262626" stroke="#262626" stroke-width="0.0" >0</text>
<text x="410.50" y="235.30" font-size="11.5" text-anchor="middle" font-family="Liberation Serif, serif" fill="#262626" stroke="#262626" stroke-width="0.0" >1</text>
<text x="462.50" y="235.30" font-size="11.5" text-anchor="middle" font-family="Liberation Serif, serif" fill="#262626" stroke="#262626" stroke-width="0.0" >2</text>
<text x="514.50" y="235.30" font-size="11.5" text-anchor="middle" font-family="Liberation Serif, serif" fill="#262626" stroke="#262626" stroke-width="0.0" >3</text>
<text x="566.50" y="235.30" font-size="11.5" text-anchor="middle" font-family="Liberation Serif, serif" fill="#262626" stroke="#262626" stroke-width="0.0" >4</text>
<text x="618.50" y="235.30" font-size="11.5" text-anchor="middle" font-family="Liberation Serif, serif" fill="#262626" stroke="#262626" stroke-width="0.0" >5</text>
<text x="670.50" y="235.30" font-size="11.5" text-anchor="middle" font-family="Liberation Serif, serif" fill="#262626" stroke="#262626" stroke-width="0.0" >6</text>
<text x="0" y="0" font-size="13.3" text-anchor="middle" font-family="Liberation Serif, serif" fill="#262626" transform="translate(521.50,250.20) rotate(0) scale(1.09,1)">Phase (rad)</text>
<text x="0" y="0" font-size="13.8" text-anchor="middle" font-family="Liberation Serif, serif" fill="#262626" transform="translate(331.60,125.60) rotate(-90) scale(1.0,1)">Coincidence rate (Hz)</text>
<line x1="79.18" y1="416.32" x2="177.58" y2="379.32" stroke="#e3e3e3" stroke-width="0.6" />
<line x1="80.76" y1="404.68" x2="166.56" y2="460.88" stroke="#e3e3e3" stroke-width="0.6" />
<line x1="100.63" y1="430.38" x2="199.03" y2="393.38" stroke="#e3e3e3" stroke-width="0.6" />
<line x1="105.36" y1="395.43" x2="191.16" y2="451.62" stroke="#e3e3e3" stroke-width="0.6" />
<line x1="122.08" y1="444.43" x2="220.49" y2="407.43" stroke="#e3e3e3" stroke-width="0.6" />
<line x1="129.96" y1="386.18" x2="215.76" y2="442.38" stroke="#e3e3e3" stroke-width="0.6" />
<line x1="143.53" y1="458.48" x2="241.94" y2="421.48" stroke="#e3e3e3" stroke-width="0.6" />
<line x1="154.56" y1="376.93" x2="240.36" y2="433.12" stroke="#e3e3e3" stroke-width="0.6" />
<line x1="80.76" y1="404.68" x2="80.76" y2="332.58" stroke="#e3e3e3" stroke-width="0.6" />
<line x1="105.36" y1="395.43" x2="105.36" y2="323.33" stroke="#e3e3e3" stroke-width="0.6" />
<line x1="129.96" y1="386.18" x2="129.96" y2="314.08" stroke="#e3e3e3" stroke-width="0.6" />
<line x1="154.56" y1="376.93" x2="154.56" y2="304.83" stroke="#e3e3e3" stroke-width="0.6" />
<line x1="68.46" y1="373.25" x2="166.86" y2="336.25" stroke="#e3e3e3" stroke-width="0.6" />
<line x1="68.46" y1="337.20" x2="166.86" y2="300.20" stroke="#e3e3e3" stroke-width="0.6" />
<line x1="177.58" y1="379.32" x2="177.58" y2="307.23" stroke="#e3e3e3" stroke-width="0.6" />
<line x1="199.03" y1="393.38" x2="199.03" y2="321.27" stroke="#e3e3e3" stroke-width="0.6" />
<line x1="220.49" y1="407.43" x2="220.49" y2="335.33" stroke="#e3e3e3" stroke-width="0.6" />
<line x1="241.94" y1="421.48" x2="241.94" y2="349.38" stroke="#e3e3e3" stroke-width="0.6" />
<line x1="166.86" y1="336.25" x2="252.66" y2="392.45" stroke="#e3e3e3" stroke-width="0.6" />
<line x1="166.86" y1="300.20" x2="252.66" y2="356.40" stroke="#e3e3e3" stroke-width="0.6" />
<line x1="166.86" y1="372.30" x2="166.86" y2="300.20" stroke="#e3e3e3" stroke-width="0.6" />
<line x1="166.86" y1="372.30" x2="252.66" y2="428.50" stroke="#e3e3e3" stroke-width="0.6" />
<line x1="68.46" y1="409.30" x2="166.86" y2="372.30" stroke="#e3e3e3" stroke-width="0.6" />
<line x1="68.46" y1="409.30" x2="68.46" y2="335.40" stroke="#4a4a4a" stroke-width="0.7" />
<line x1="68.46" y1="409.30" x2="154.26" y2="465.50" stroke="#4a4a4a" stroke-width="0.7" />
<line x1="154.26" y1="465.50" x2="252.66" y2="428.50" stroke="#4a4a4a" stroke-width="0.7" />
<line x1="68.46" y1="409.30" x2="66.40" y2="410.07" stroke="#4a4a4a" stroke-width="0.6" />
<line x1="68.46" y1="373.25" x2="66.40" y2="374.02" stroke="#4a4a4a" stroke-width="0.6" />
<line x1="68.46" y1="337.20" x2="66.40" y2="337.97" stroke="#4a4a4a" stroke-width="0.6" />
<line x1="79.18" y1="416.32" x2="77.13" y2="417.10" stroke="#4a4a4a" stroke-width="0.6" />
<line x1="166.56" y1="460.88" x2="168.40" y2="462.08" stroke="#4a4a4a" stroke-width="0.6" />
<line x1="100.63" y1="430.38" x2="98.58" y2="431.15" stroke="#4a4a4a" stroke-width="0.6" />
<line x1="191.16" y1="451.62" x2="193.00" y2="452.83" stroke="#4a4a4a" stroke-width="0.6" />
<line x1="122.08" y1="444.43" x2="120.03" y2="445.20" stroke="#4a4a4a" stroke-width="0.6" />
<line x1="215.76" y1="442.38" x2="217.60" y2="443.58" stroke="#4a4a4a" stroke-width="0.6" />
<line x1="143.53" y1="458.48" x2="141.48" y2="459.25" stroke="#4a4a4a" stroke-width="0.6" />
<line x1="240.36" y1="433.12" x2="242.20" y2="434.33" stroke="#4a4a4a" stroke-width="0.6" />
<defs><linearGradient id="g1" gradientUnits="userSpaceOnUse" x1="146.87" y1="314.26" x2="132.32" y2="336.46"><stop offset="0.0000" stop-color="#084a92"/><stop offset="0.0625" stop-color="#08519c"/><stop offset="0.3750" stop-color="#2171b5"/><stop offset="0.6875" stop-color="#4292c6"/><stop offset="1.0000" stop-color="#6baed6"/></linearGradient></defs>
<polygon points="146.87,314.26 164.02,325.50 164.02,357.22 146.87,345.98" fill="url(#g1)" stroke="#000" stroke-width="0.5" stroke-linejoin="round"/>
<defs><linearGradient id="g2" gradientUnits="userSpaceOnUse" x1="164.02" y1="325.50" x2="174.48" y2="353.29"><stop offset="0.0000" stop-color="#084a92"/><stop offset="0.0625" stop-color="#08519c"/><stop offset="0.3750" stop-color="#2171b5"/><stop offset="0.6875" stop-color="#4292c6"/><stop offset="1.0000" stop-color="#6baed6"/></linearGradient></defs>
<polygon points="164.02,325.50 183.70,318.10 183.70,349.82 164.02,357.22" fill="url(#g2)" stroke="#000" stroke-width="0.5" stroke-linejoin="round"/>
<polygon points="146.87,314.26 166.55,306.86 183.70,318.10 164.02,325.50" fill="#084a92" stroke="#000" stroke-width="0.5" stroke-linejoin="round"/>
<polygon points="122.26,355.23 141.94,347.83 159.10,359.07 139.42,366.47" fill="#6baed6" stroke="#000" stroke-width="0.5" stroke-linejoin="round"/>
<defs><linearGradient id="g3" gradientUnits="userSpaceOnUse" x1="168.31" y1="358.23" x2="167.49" y2="359.49"><stop offset="0.0000" stop-color="#64a9d3"/><stop offset="1.0000" stop-color="#6baed6"/></linearGradient></defs>
<polygon points="168.31,358.23 185.47,369.47 185.47,371.27 168.31,360.03" fill="url(#g3)" stroke="#000" stroke-width="0.5" stroke-linejoin="round"/>
<defs><linearGradient id="g4" gradientUnits="userSpaceOnUse" x1="185.47" y1="369.47" x2="186.07" y2="371.05"><stop offset="0.0000" stop-color="#64a9d3"/><stop offset="1.0000" stop-color="#6baed6"/></linearGradient></defs>
<polygon points="185.47,369.47 205.16,362.07 205.16,363.87 185.47,371.27" fill="url(#g4)" stroke="#000" stroke-width="0.5" stroke-linejoin="round"/>
<polygon points="168.31,358.23 188.00,350.83 205.16,362.07 185.47,369.47" fill="#64a9d3" stroke="#000" stroke-width="0.5" stroke-linejoin="round"/>
<polygon points="97.66,364.48 117.34,357.08 134.50,368.32 114.82,375.72" fill="#6baed6" stroke="#000" stroke-width="0.5" stroke-linejoin="round"/>
<polygon points="143.72,369.28 163.39,361.88 180.56,373.12 160.88,380.52" fill="#6baed6" stroke="#000" stroke-width="0.5" stroke-linejoin="round"/>
<polygon points="189.76,374.08 209.44,366.68 226.61,377.92 206.93,385.32" fill="#6baed6" stroke="#000" stroke-width="0.5" stroke-linejoin="round"/>
<defs><linearGradient id="g5" gradientUnits="userSpaceOnUse" x1="73.06" y1="342.29" x2="58.66" y2="364.29"><stop offset="0.0000" stop-color="#084b94"/><stop offset="0.0539" stop-color="#08519c"/><stop offset="0.3693" stop-color="#2171b5"/><stop offset="0.6846" stop-color="#4292c6"/><stop offset="1.0000" stop-color="#6baed6"/></linearGradient></defs>
<polygon points="73.06,342.29 90.22,353.53 90.22,384.97 73.06,373.73" fill="url(#g5)" stroke="#000" stroke-width="0.5" stroke-linejoin="round"/>
<defs><linearGradient id="g6" gradientUnits="userSpaceOnUse" x1="90.22" y1="353.53" x2="100.58" y2="381.08"><stop offset="0.0000" stop-color="#084b94"/><stop offset="0.0539" stop-color="#08519c"/><stop offset="0.3693" stop-color="#2171b5"/><stop offset="0.6846" stop-color="#4292c6"/><stop offset="1.0000" stop-color="#6baed6"/></linearGradient></defs>
<polygon points="90.22,353.53 109.90,346.13 109.90,377.57 90.22,384.97" fill="url(#g6)" stroke="#000" stroke-width="0.5" stroke-linejoin="round"/>
<polygon points="73.06,342.29 92.74,334.89 109.90,346.13 90.22,353.53" fill="#084b94" stroke="#000" stroke-width="0.5" stroke-linejoin="round"/>
<polygon points="119.11,378.53 138.79,371.13 155.95,382.37 136.27,389.77" fill="#6baed6" stroke="#000" stroke-width="0.5" stroke-linejoin="round"/>
<polygon points="165.16,383.33 184.84,375.93 202.00,387.17 182.32,394.57" fill="#6baed6" stroke="#000" stroke-width="0.5" stroke-linejoin="round"/>
<defs><linearGradient id="g7" gradientUnits="userSpaceOnUse" x1="211.21" y1="348.84" x2="193.20" y2="376.33"><stop offset="0.0000" stop-color="#08316d"/><stop offset="0.2431" stop-color="#08519c"/><stop offset="0.4954" stop-color="#2171b5"/><stop offset="0.7477" stop-color="#4292c6"/><stop offset="1.0000" stop-color="#6baed6"/></linearGradient></defs>
<polygon points="211.21,348.84 228.38,360.08 228.38,399.37 211.21,388.13" fill="url(#g7)" stroke="#000" stroke-width="0.5" stroke-linejoin="round"/>
<defs><linearGradient id="g8" gradientUnits="userSpaceOnUse" x1="228.38" y1="360.08" x2="241.32" y2="394.50"><stop offset="0.0000" stop-color="#08316d"/><stop offset="0.2431" stop-color="#08519c"/><stop offset="0.4954" stop-color="#2171b5"/><stop offset="0.7477" stop-color="#4292c6"/><stop offset="1.0000" stop-color="#6baed6"/></linearGradient></defs>
<polygon points="228.38,360.08 248.06,352.68 248.06,391.97 228.38,399.37" fill="url(#g8)" stroke="#000" stroke-width="0.5" stroke-linejoin="round"/>
<polygon points="211.21,348.84 230.89,341.44 248.06,352.68 228.38,360.08" fill="#08316d" stroke="#000" stroke-width="0.5" stroke-linejoin="round"/>
<polygon points="94.51,387.78 114.19,380.38 131.35,391.62 111.67,399.02" fill="#6baed6" stroke="#000" stroke-width="0.5" stroke-linejoin="round"/>
<polygon points="140.56,392.58 160.25,385.18 177.41,396.42 157.72,403.82" fill="#6baed6" stroke="#000" stroke-width="0.5" stroke-linejoin="round"/>
<polygon points="186.61,397.38 206.29,389.98 223.46,401.22 203.78,408.62" fill="#6baed6" stroke="#000" stroke-width="0.5" stroke-linejoin="round"/>
<polygon points="115.96,401.83 135.64,394.43 152.81,405.67 133.12,413.07" fill="#6baed6" stroke="#000" stroke-width="0.5" stroke-linejoin="round"/>
<defs><linearGradient id="g9" gradientUnits="userSpaceOnUse" x1="162.01" y1="405.19" x2="161.35" y2="406.20"><stop offset="0.0000" stop-color="#65aad4"/><stop offset="1.0000" stop-color="#6baed6"/></linearGradient></defs>
<polygon points="162.01,405.19 179.18,416.43 179.18,417.87 162.01,406.63" fill="url(#g9)" stroke="#000" stroke-width="0.5" stroke-linejoin="round"/>
<defs><linearGradient id="g10" gradientUnits="userSpaceOnUse" x1="179.18" y1="416.43" x2="179.65" y2="417.69"><stop offset="0.0000" stop-color="#65aad4"/><stop offset="1.0000" stop-color="#6baed6"/></linearGradient></defs>
<polygon points="179.18,416.43 198.86,409.03 198.86,410.47 179.18,417.87" fill="url(#g10)" stroke="#000" stroke-width="0.5" stroke-linejoin="round"/>
<polygon points="162.01,405.19 181.69,397.79 198.86,409.03 179.18,416.43" fill="#65aad4" stroke="#000" stroke-width="0.5" stroke-linejoin="round"/>
<defs><linearGradient id="g11" gradientUnits="userSpaceOnUse" x1="137.41" y1="384.66" x2="123.11" y2="406.51"><stop offset="0.0000" stop-color="#084c95"/><stop offset="0.0473" stop-color="#08519c"/><stop offset="0.3649" stop-color="#2171b5"/><stop offset="0.6824" stop-color="#4292c6"/><stop offset="1.0000" stop-color="#6baed6"/></linearGradient></defs>
<polygon points="137.41,384.66 154.58,395.90 154.58,427.12 137.41,415.88" fill="url(#g11)" stroke="#000" stroke-width="0.5" stroke-linejoin="round"/>
<defs><linearGradient id="g12" gradientUnits="userSpaceOnUse" x1="154.58" y1="395.90" x2="164.86" y2="423.25"><stop offset="0.0000" stop-color="#084c95"/><stop offset="0.0473" stop-color="#08519c"/><stop offset="0.3649" stop-color="#2171b5"/><stop offset="0.6824" stop-color="#4292c6"/><stop offset="1.0000" stop-color="#6baed6"/></linearGradient></defs>
<polygon points="154.58,395.90 174.25,388.50 174.25,419.72 154.58,427.12" fill="url(#g12)" stroke="#000" stroke-width="0.5" stroke-linejoin="round"/>
<polygon points="137.41,384.66 157.09,377.26 174.25,388.50 154.58,395.90" fill="#084c95" stroke="#000" stroke-width="0.5" stroke-linejoin="round"/>
<text x="62.60" y="338.40" font-size="11.5" text-anchor="end" font-family="Liberation Serif, serif" fill="#262626" stroke="#262626" stroke-width="0.0" >0.5</text>
<text x="62.60" y="373.80" font-size="11.5" text-anchor="end" font-family="Liberation Serif, serif" fill="#262626" stroke="#262626" stroke-width="0.0" >0</text>
<text x="62.60" y="409.80" font-size="11.5" text-anchor="end" font-family="Liberation Serif, serif" fill="#262626" stroke="#262626" stroke-width="0.0" >-0.5</text>
<text x="0" y="0" font-size="14" text-anchor="middle" font-family="Liberation Serif, serif" fill="#262626" stroke="none" transform="translate(37.9,372.55) rotate(-90)">Re(<tspan font-style="italic">ρ</tspan>)</text>
<g transform="translate(72.28,429.72) rotate(0)"><g transform="translate(-19.17,0)"><line x1="1.61" y1="-8.62" x2="1.61" y2="2.88" stroke="#262626" stroke-width="0.69"/><text x="3.20" y="0" font-size="11.50" font-family="Liberation Serif, serif" fill="#262626">00</text><path d="M15.50,-8.62 L18.15,-2.88 L15.50,2.88" fill="none" stroke="#262626" stroke-width="0.69" stroke-linejoin="miter"/></g></g>
<g transform="translate(93.73,443.77) rotate(0)"><g transform="translate(-19.17,0)"><line x1="1.61" y1="-8.62" x2="1.61" y2="2.88" stroke="#262626" stroke-width="0.69"/><text x="3.20" y="0" font-size="11.50" font-family="Liberation Serif, serif" fill="#262626">01</text><path d="M15.50,-8.62 L18.15,-2.88 L15.50,2.88" fill="none" stroke="#262626" stroke-width="0.69" stroke-linejoin="miter"/></g></g>
<g transform="translate(115.18,457.82) rotate(0)"><g transform="translate(-19.17,0)"><line x1="1.61" y1="-8.62" x2="1.61" y2="2.88" stroke="#262626" stroke-width="0.69"/><text x="3.20" y="0" font-size="11.50" font-family="Liberation Serif, serif" fill="#262626">10</text><path d="M15.50,-8.62 L18.15,-2.88 L15.50,2.88" fill="none" stroke="#262626" stroke-width="0.69" stroke-linejoin="miter"/></g></g>
<g transform="translate(136.63,471.88) rotate(0)"><g transform="translate(-19.17,0)"><line x1="1.61" y1="-8.62" x2="1.61" y2="2.88" stroke="#262626" stroke-width="0.69"/><text x="3.20" y="0" font-size="11.50" font-family="Liberation Serif, serif" fill="#262626">11</text><path d="M15.50,-8.62 L18.15,-2.88 L15.50,2.88" fill="none" stroke="#262626" stroke-width="0.69" stroke-linejoin="miter"/></g></g>
<g transform="translate(169.76,466.07) rotate(69)"><g transform="translate(0.00,0)"><line x1="1.54" y1="-8.25" x2="1.54" y2="2.75" stroke="#262626" stroke-width="0.66"/><text x="3.06" y="0" font-size="11.00" font-family="Liberation Serif, serif" fill="#262626">00</text><path d="M14.83,-8.25 L17.36,-2.75 L14.83,2.75" fill="none" stroke="#262626" stroke-width="0.66" stroke-linejoin="miter"/></g></g>
<g transform="translate(194.36,456.82) rotate(69)"><g transform="translate(0.00,0)"><line x1="1.54" y1="-8.25" x2="1.54" y2="2.75" stroke="#262626" stroke-width="0.66"/><text x="3.06" y="0" font-size="11.00" font-family="Liberation Serif, serif" fill="#262626">01</text><path d="M14.83,-8.25 L17.36,-2.75 L14.83,2.75" fill="none" stroke="#262626" stroke-width="0.66" stroke-linejoin="miter"/></g></g>
<g transform="translate(218.96,447.57) rotate(69)"><g transform="translate(0.00,0)"><line x1="1.54" y1="-8.25" x2="1.54" y2="2.75" stroke="#262626" stroke-width="0.66"/><text x="3.06" y="0" font-size="11.00" font-family="Liberation Serif, serif" fill="#262626">10</text><path d="M14.83,-8.25 L17.36,-2.75 L14.83,2.75" fill="none" stroke="#262626" stroke-width="0.66" stroke-linejoin="miter"/></g></g>
<g transform="translate(243.56,438.32) rotate(69)"><g transform="translate(0.00,0)"><line x1="1.54" y1="-8.25" x2="1.54" y2="2.75" stroke="#262626" stroke-width="0.66"/><text x="3.06" y="0" font-size="11.00" font-family="Liberation Serif, serif" fill="#262626">11</text><path d="M14.83,-8.25 L17.36,-2.75 L14.83,2.75" fill="none" stroke="#262626" stroke-width="0.66" stroke-linejoin="miter"/></g></g>
<line x1="273.88" y1="334.07" x2="333.49" y2="311.27" stroke="#e3e3e3" stroke-width="0.6" />
<line x1="274.69" y1="326.95" x2="327.85" y2="361.15" stroke="#e3e3e3" stroke-width="0.6" />
<line x1="287.18" y1="342.62" x2="346.78" y2="319.82" stroke="#e3e3e3" stroke-width="0.6" />
<line x1="289.59" y1="321.25" x2="342.75" y2="355.45" stroke="#e3e3e3" stroke-width="0.6" />
<line x1="300.47" y1="351.18" x2="360.07" y2="328.38" stroke="#e3e3e3" stroke-width="0.6" />
<line x1="304.49" y1="315.55" x2="357.65" y2="349.75" stroke="#e3e3e3" stroke-width="0.6" />
<line x1="313.75" y1="359.73" x2="373.36" y2="336.93" stroke="#e3e3e3" stroke-width="0.6" />
<line x1="319.39" y1="309.85" x2="372.55" y2="344.05" stroke="#e3e3e3" stroke-width="0.6" />
<line x1="274.69" y1="326.95" x2="274.69" y2="283.45" stroke="#e3e3e3" stroke-width="0.6" />
<line x1="289.59" y1="321.25" x2="289.59" y2="277.75" stroke="#e3e3e3" stroke-width="0.6" />
<line x1="304.49" y1="315.55" x2="304.49" y2="272.05" stroke="#e3e3e3" stroke-width="0.6" />
<line x1="319.39" y1="309.85" x2="319.39" y2="266.35" stroke="#e3e3e3" stroke-width="0.6" />
<line x1="267.24" y1="308.05" x2="326.84" y2="285.25" stroke="#e3e3e3" stroke-width="0.6" />
<line x1="267.24" y1="286.30" x2="326.84" y2="263.50" stroke="#e3e3e3" stroke-width="0.6" />
<line x1="333.49" y1="311.27" x2="333.49" y2="267.77" stroke="#e3e3e3" stroke-width="0.6" />
<line x1="346.78" y1="319.82" x2="346.78" y2="276.32" stroke="#e3e3e3" stroke-width="0.6" />
<line x1="360.07" y1="328.38" x2="360.07" y2="284.88" stroke="#e3e3e3" stroke-width="0.6" />
<line x1="373.36" y1="336.93" x2="373.36" y2="293.43" stroke="#e3e3e3" stroke-width="0.6" />
<line x1="326.84" y1="285.25" x2="380.00" y2="319.45" stroke="#e3e3e3" stroke-width="0.6" />
<line x1="326.84" y1="263.50" x2="380.00" y2="297.70" stroke="#e3e3e3" stroke-width="0.6" />
<line x1="326.84" y1="307.00" x2="326.84" y2="263.50" stroke="#e3e3e3" stroke-width="0.6" />
<line x1="326.84" y1="307.00" x2="380.00" y2="341.20" stroke="#e3e3e3" stroke-width="0.6" />
<line x1="267.24" y1="329.80" x2="326.84" y2="307.00" stroke="#e3e3e3" stroke-width="0.6" />
<line x1="267.24" y1="329.80" x2="267.24" y2="285.70" stroke="#4a4a4a" stroke-width="0.7" />
<line x1="267.24" y1="329.80" x2="320.40" y2="364.00" stroke="#4a4a4a" stroke-width="0.7" />
<line x1="320.40" y1="364.00" x2="380.00" y2="341.20" stroke="#4a4a4a" stroke-width="0.7" />
<line x1="267.24" y1="329.80" x2="265.19" y2="330.59" stroke="#4a4a4a" stroke-width="0.6" />
<line x1="267.24" y1="308.05" x2="265.19" y2="308.84" stroke="#4a4a4a" stroke-width="0.6" />
<line x1="267.24" y1="286.30" x2="265.19" y2="287.09" stroke="#4a4a4a" stroke-width="0.6" />
<line x1="273.88" y1="334.07" x2="271.83" y2="334.86" stroke="#4a4a4a" stroke-width="0.6" />
<line x1="327.85" y1="361.15" x2="329.70" y2="362.34" stroke="#4a4a4a" stroke-width="0.6" />
<line x1="287.18" y1="342.62" x2="285.12" y2="343.41" stroke="#4a4a4a" stroke-width="0.6" />
<line x1="342.75" y1="355.45" x2="344.60" y2="356.64" stroke="#4a4a4a" stroke-width="0.6" />
<line x1="300.47" y1="351.18" x2="298.41" y2="351.96" stroke="#4a4a4a" stroke-width="0.6" />
<line x1="357.65" y1="349.75" x2="359.50" y2="350.94" stroke="#4a4a4a" stroke-width="0.6" />
<line x1="313.75" y1="359.73" x2="311.70" y2="360.51" stroke="#4a4a4a" stroke-width="0.6" />
<line x1="372.55" y1="344.05" x2="374.40" y2="345.24" stroke="#4a4a4a" stroke-width="0.6" />
<defs><linearGradient id="g13" gradientUnits="userSpaceOnUse" x1="314.76" y1="291.24" x2="314.17" y2="292.16"><stop offset="0.0000" stop-color="#6baed6"/><stop offset="1.0000" stop-color="#7ab6d9"/></linearGradient></defs>
<polygon points="314.76,291.24 325.39,298.07 325.39,299.38 314.76,292.54" fill="url(#g13)" stroke="#000" stroke-width="0.5" stroke-linejoin="round"/>
<defs><linearGradient id="g14" gradientUnits="userSpaceOnUse" x1="325.39" y1="298.07" x2="325.83" y2="299.21"><stop offset="0.0000" stop-color="#6baed6"/><stop offset="1.0000" stop-color="#7ab6d9"/></linearGradient></defs>
<polygon points="325.39,298.07 337.31,293.51 337.31,294.82 325.39,299.38" fill="url(#g14)" stroke="#000" stroke-width="0.5" stroke-linejoin="round"/>
<polygon points="314.76,291.24 326.68,286.68 337.31,293.51 325.39,298.07" fill="#6baed6" stroke="#000" stroke-width="0.5" stroke-linejoin="round"/>
<defs><linearGradient id="g15" gradientUnits="userSpaceOnUse" x1="299.86" y1="295.41" x2="299.17" y2="296.49"><stop offset="0.0000" stop-color="#5da4d0"/><stop offset="1.0000" stop-color="#6baed6"/></linearGradient></defs>
<polygon points="299.86,295.41 310.49,302.25 310.49,303.77 299.86,296.94" fill="url(#g15)" stroke="#000" stroke-width="0.5" stroke-linejoin="round"/>
<defs><linearGradient id="g16" gradientUnits="userSpaceOnUse" x1="310.49" y1="302.25" x2="311.00" y2="303.58"><stop offset="0.0000" stop-color="#5da4d0"/><stop offset="1.0000" stop-color="#6baed6"/></linearGradient></defs>
<polygon points="310.49,302.25 322.41,297.69 322.41,299.22 310.49,303.77" fill="url(#g16)" stroke="#000" stroke-width="0.5" stroke-linejoin="round"/>
<polygon points="299.86,295.41 311.78,290.85 322.41,297.69 310.49,302.25" fill="#5da4d0" stroke="#000" stroke-width="0.5" stroke-linejoin="round"/>
<polygon points="328.05,299.79 339.97,295.23 350.60,302.06 338.68,306.62" fill="#6baed6" stroke="#000" stroke-width="0.5" stroke-linejoin="round"/>
<polygon points="284.96,302.64 296.88,298.08 307.51,304.92 295.59,309.48" fill="#6baed6" stroke="#000" stroke-width="0.5" stroke-linejoin="round"/>
<polygon points="313.15,305.49 325.07,300.93 335.70,307.76 323.78,312.32" fill="#6baed6" stroke="#000" stroke-width="0.5" stroke-linejoin="round"/>
<defs><linearGradient id="g17" gradientUnits="userSpaceOnUse" x1="341.34" y1="306.81" x2="340.65" y2="307.89"><stop offset="0.0000" stop-color="#5da4d0"/><stop offset="1.0000" stop-color="#6baed6"/></linearGradient></defs>
<polygon points="341.34,306.81 351.97,313.65 351.97,315.18 341.34,308.33" fill="url(#g17)" stroke="#000" stroke-width="0.5" stroke-linejoin="round"/>
<defs><linearGradient id="g18" gradientUnits="userSpaceOnUse" x1="351.97" y1="313.65" x2="352.48" y2="314.98"><stop offset="0.0000" stop-color="#5da4d0"/><stop offset="1.0000" stop-color="#6baed6"/></linearGradient></defs>
<polygon points="351.97,313.65 363.89,309.09 363.89,310.62 351.97,315.18" fill="url(#g18)" stroke="#000" stroke-width="0.5" stroke-linejoin="round"/>
<polygon points="341.34,306.81 353.26,302.25 363.89,309.09 351.97,313.65" fill="#5da4d0" stroke="#000" stroke-width="0.5" stroke-linejoin="round"/>
<polygon points="270.06,308.34 281.98,303.78 292.61,310.62 280.69,315.18" fill="#6baed6" stroke="#000" stroke-width="0.5" stroke-linejoin="round"/>
<polygon points="298.25,311.19 310.17,306.63 320.80,313.47 308.88,318.03" fill="#6baed6" stroke="#000" stroke-width="0.5" stroke-linejoin="round"/>
<polygon points="326.44,314.03 338.36,309.48 348.99,316.32 337.07,320.88" fill="#6baed6" stroke="#000" stroke-width="0.5" stroke-linejoin="round"/>
<polygon points="354.63,316.88 366.55,312.32 377.18,319.17 365.26,323.73" fill="#6baed6" stroke="#000" stroke-width="0.5" stroke-linejoin="round"/>
<polygon points="283.35,316.89 295.27,312.33 305.90,319.17 293.98,323.73" fill="#6baed6" stroke="#000" stroke-width="0.5" stroke-linejoin="round"/>
<polygon points="311.54,319.74 323.46,315.18 334.09,322.02 322.17,326.58" fill="#6baed6" stroke="#000" stroke-width="0.5" stroke-linejoin="round"/>
<defs><linearGradient id="g19" gradientUnits="userSpaceOnUse" x1="339.73" y1="321.28" x2="339.14" y2="322.20"><stop offset="0.0000" stop-color="#5fa6d1"/><stop offset="1.0000" stop-color="#6baed6"/></linearGradient></defs>
<polygon points="339.73,321.28 350.36,328.12 350.36,329.43 339.73,322.58" fill="url(#g19)" stroke="#000" stroke-width="0.5" stroke-linejoin="round"/>
<defs><linearGradient id="g20" gradientUnits="userSpaceOnUse" x1="350.36" y1="328.12" x2="350.80" y2="329.26"><stop offset="0.0000" stop-color="#5fa6d1"/><stop offset="1.0000" stop-color="#6baed6"/></linearGradient></defs>
<polygon points="350.36,328.12 362.28,323.56 362.28,324.87 350.36,329.43" fill="url(#g20)" stroke="#000" stroke-width="0.5" stroke-linejoin="round"/>
<polygon points="339.73,321.28 351.65,316.72 362.28,323.56 350.36,328.12" fill="#5fa6d1" stroke="#000" stroke-width="0.5" stroke-linejoin="round"/>
<defs><linearGradient id="g21" gradientUnits="userSpaceOnUse" x1="296.64" y1="324.56" x2="296.24" y2="325.18"><stop offset="0.0000" stop-color="#63a8d3"/><stop offset="1.0000" stop-color="#6baed6"/></linearGradient></defs>
<polygon points="296.64,324.56 307.27,331.41 307.27,332.28 296.64,325.44" fill="url(#g21)" stroke="#000" stroke-width="0.5" stroke-linejoin="round"/>
<defs><linearGradient id="g22" gradientUnits="userSpaceOnUse" x1="307.27" y1="331.41" x2="307.56" y2="332.16"><stop offset="0.0000" stop-color="#63a8d3"/><stop offset="1.0000" stop-color="#6baed6"/></linearGradient></defs>
<polygon points="307.27,331.41 319.19,326.85 319.19,327.72 307.27,332.28" fill="url(#g22)" stroke="#000" stroke-width="0.5" stroke-linejoin="round"/>
<polygon points="296.64,324.56 308.56,320.00 319.19,326.85 307.27,331.41" fill="#63a8d3" stroke="#000" stroke-width="0.5" stroke-linejoin="round"/>
<polygon points="324.83,328.29 336.75,323.73 347.38,330.57 335.46,335.13" fill="#6baed6" stroke="#000" stroke-width="0.5" stroke-linejoin="round"/>
<defs><linearGradient id="g23" gradientUnits="userSpaceOnUse" x1="309.93" y1="329.63" x2="307.95" y2="332.71"><stop offset="0.0000" stop-color="#4292c6"/><stop offset="1.0000" stop-color="#6baed6"/></linearGradient></defs>
<polygon points="309.93,329.63 320.56,336.48 320.56,340.83 309.93,333.99" fill="url(#g23)" stroke="#000" stroke-width="0.5" stroke-linejoin="round"/>
<defs><linearGradient id="g24" gradientUnits="userSpaceOnUse" x1="320.56" y1="336.48" x2="322.01" y2="340.27"><stop offset="0.0000" stop-color="#4292c6"/><stop offset="1.0000" stop-color="#6baed6"/></linearGradient></defs>
<polygon points="320.56,336.48 332.48,331.92 332.48,336.27 320.56,340.83" fill="url(#g24)" stroke="#000" stroke-width="0.5" stroke-linejoin="round"/>
<polygon points="309.93,329.63 321.85,325.07 332.48,331.92 320.56,336.48" fill="#4292c6" stroke="#000" stroke-width="0.5" stroke-linejoin="round"/>
<text x="263.20" y="287.00" font-size="11.5" text-anchor="end" font-family="Liberation Serif, serif" fill="#262626" stroke="#262626" stroke-width="0.0" >0.5</text>
<text x="263.20" y="309.00" font-size="11.5" text-anchor="end" font-family="Liberation Serif, serif" fill="#262626" stroke="#262626" stroke-width="0.0" >0</text>
<text x="263.20" y="330.90" font-size="11.5" text-anchor="end" font-family="Liberation Serif, serif" fill="#262626" stroke="#262626" stroke-width="0.0" >-0.5</text>
<text x="0" y="0" font-size="14" text-anchor="middle" font-family="Liberation Serif, serif" fill="#262626" stroke="none" transform="translate(238.4,308.5) rotate(-90)">Im(<tspan font-style="italic">ρ</tspan>)</text>
<g transform="translate(269.99,340.07) rotate(-55)"><g transform="translate(-18.34,0)"><line x1="1.54" y1="-8.25" x2="1.54" y2="2.75" stroke="#262626" stroke-width="0.66"/><text x="3.06" y="0" font-size="11.00" font-family="Liberation Serif, serif" fill="#262626">00</text><path d="M14.83,-8.25 L17.36,-2.75 L14.83,2.75" fill="none" stroke="#262626" stroke-width="0.66" stroke-linejoin="miter"/></g></g>
<g transform="translate(283.28,348.62) rotate(-55)"><g transform="translate(-18.34,0)"><line x1="1.54" y1="-8.25" x2="1.54" y2="2.75" stroke="#262626" stroke-width="0.66"/><text x="3.06" y="0" font-size="11.00" font-family="Liberation Serif, serif" fill="#262626">01</text><path d="M14.83,-8.25 L17.36,-2.75 L14.83,2.75" fill="none" stroke="#262626" stroke-width="0.66" stroke-linejoin="miter"/></g></g>
<g transform="translate(296.57,357.18) rotate(-55)"><g transform="translate(-18.34,0)"><line x1="1.54" y1="-8.25" x2="1.54" y2="2.75" stroke="#262626" stroke-width="0.66"/><text x="3.06" y="0" font-size="11.00" font-family="Liberation Serif, serif" fill="#262626">10</text><path d="M14.83,-8.25 L17.36,-2.75 L14.83,2.75" fill="none" stroke="#262626" stroke-width="0.66" stroke-linejoin="miter"/></g></g>
<g transform="translate(309.86,365.73) rotate(-55)"><g transform="translate(-18.34,0)"><line x1="1.54" y1="-8.25" x2="1.54" y2="2.75" stroke="#262626" stroke-width="0.66"/><text x="3.06" y="0" font-size="11.00" font-family="Liberation Serif, serif" fill="#262626">11</text><path d="M14.83,-8.25 L17.36,-2.75 L14.83,2.75" fill="none" stroke="#262626" stroke-width="0.66" stroke-linejoin="miter"/></g></g>
<g transform="translate(328.85,366.15) rotate(69)"><g transform="translate(0.00,0)"><line x1="1.54" y1="-8.25" x2="1.54" y2="2.75" stroke="#262626" stroke-width="0.66"/><text x="3.06" y="0" font-size="11.00" font-family="Liberation Serif, serif" fill="#262626">00</text><path d="M14.83,-8.25 L17.36,-2.75 L14.83,2.75" fill="none" stroke="#262626" stroke-width="0.66" stroke-linejoin="miter"/></g></g>
<g transform="translate(343.75,360.45) rotate(69)"><g transform="translate(0.00,0)"><line x1="1.54" y1="-8.25" x2="1.54" y2="2.75" stroke="#262626" stroke-width="0.66"/><text x="3.06" y="0" font-size="11.00" font-family="Liberation Serif, serif" fill="#262626">01</text><path d="M14.83,-8.25 L17.36,-2.75 L14.83,2.75" fill="none" stroke="#262626" stroke-width="0.66" stroke-linejoin="miter"/></g></g>
<g transform="translate(358.65,354.75) rotate(69)"><g transform="translate(0.00,0)"><line x1="1.54" y1="-8.25" x2="1.54" y2="2.75" stroke="#262626" stroke-width="0.66"/><text x="3.06" y="0" font-size="11.00" font-family="Liberation Serif, serif" fill="#262626">10</text><path d="M14.83,-8.25 L17.36,-2.75 L14.83,2.75" fill="none" stroke="#262626" stroke-width="0.66" stroke-linejoin="miter"/></g></g>
<g transform="translate(373.55,349.05) rotate(69)"><g transform="translate(0.00,0)"><line x1="1.54" y1="-8.25" x2="1.54" y2="2.75" stroke="#262626" stroke-width="0.66"/><text x="3.06" y="0" font-size="11.00" font-family="Liberation Serif, serif" fill="#262626">11</text><path d="M14.83,-8.25 L17.36,-2.75 L14.83,2.75" fill="none" stroke="#262626" stroke-width="0.66" stroke-linejoin="miter"/></g></g>
<rect x="435.20" y="259.60" width="52.90" height="52.72" fill="#5c3696"/>
<rect x="487.80" y="259.60" width="52.90" height="52.72" fill="#f3f1f7"/>
<rect x="540.40" y="259.60" width="52.90" height="52.72" fill="#a5a2cd"/>
<rect x="593.00" y="259.60" width="52.90" height="52.72" fill="#a09dca"/>
<rect x="435.20" y="312.03" width="52.90" height="52.72" fill="#f3f1f7"/>
<rect x="487.80" y="312.03" width="52.90" height="52.72" fill="#4e1c8a"/>
<rect x="540.40" y="312.03" width="52.90" height="52.72" fill="#a5a2cd"/>
<rect x="593.00" y="312.03" width="52.90" height="52.72" fill="#8d8ac0"/>
<rect x="435.20" y="364.45" width="52.90" height="52.72" fill="#a8a5ce"/>
<rect x="487.80" y="364.45" width="52.90" height="52.72" fill="#9491c4"/>
<rect x="540.40" y="364.45" width="52.90" height="52.72" fill="#4e1c8a"/>
<rect x="593.00" y="364.45" width="52.90" height="52.72" fill="#f7f5fa"/>
<rect x="435.20" y="416.88" width="52.90" height="52.72" fill="#9995c6"/>
<rect x="487.80" y="416.88" width="52.90" height="52.72" fill="#9995c6"/>
<rect x="540.40" y="416.88" width="52.90" height="52.72" fill="#f7f5fa"/>
<rect x="593.00" y="416.88" width="52.90" height="52.72" fill="#41037e"/>
<rect x="435.2" y="259.6" width="210.40" height="209.70" fill="none" stroke="#262626" stroke-width="0.7"/>
<line x1="461.50" y1="259.60" x2="461.50" y2="256.80" stroke="#606060" stroke-width="0.6" />
<line x1="461.50" y1="469.30" x2="461.50" y2="472.10" stroke="#606060" stroke-width="0.6" />
<line x1="435.20" y1="285.81" x2="432.40" y2="285.81" stroke="#606060" stroke-width="0.6" />
<line x1="645.60" y1="285.81" x2="648.40" y2="285.81" stroke="#606060" stroke-width="0.6" />
<line x1="514.10" y1="259.60" x2="514.10" y2="256.80" stroke="#606060" stroke-width="0.6" />
<line x1="514.10" y1="469.30" x2="514.10" y2="472.10" stroke="#606060" stroke-width="0.6" />
<line x1="435.20" y1="338.24" x2="432.40" y2="338.24" stroke="#606060" stroke-width="0.6" />
<line x1="645.60" y1="338.24" x2="648.40" y2="338.24" stroke="#606060" stroke-width="0.6" />
<line x1="566.70" y1="259.60" x2="566.70" y2="256.80" stroke="#606060" stroke-width="0.6" />
<line x1="566.70" y1="469.30" x2="566.70" y2="472.10" stroke="#606060" stroke-width="0.6" />
<line x1="435.20" y1="390.66" x2="432.40" y2="390.66" stroke="#606060" stroke-width="0.6" />
<line x1="645.60" y1="390.66" x2="648.40" y2="390.66" stroke="#606060" stroke-width="0.6" />
<line x1="619.30" y1="259.60" x2="619.30" y2="256.80" stroke="#606060" stroke-width="0.6" />
<line x1="619.30" y1="469.30" x2="619.30" y2="472.10" stroke="#606060" stroke-width="0.6" />
<line x1="435.20" y1="443.09" x2="432.40" y2="443.09" stroke="#606060" stroke-width="0.6" />
<line x1="645.60" y1="443.09" x2="648.40" y2="443.09" stroke="#606060" stroke-width="0.6" />
<defs><linearGradient id="cbg" x1="0" y1="0" x2="0" y2="1"><stop offset="0.000" stop-color="#3f007d"/><stop offset="0.125" stop-color="#54278f"/><stop offset="0.250" stop-color="#6a51a3"/><stop offset="0.375" stop-color="#807dba"/><stop offset="0.500" stop-color="#9e9ac8"/><stop offset="0.625" stop-color="#bcbddc"/><stop offset="0.750" stop-color="#dadaeb"/><stop offset="0.875" stop-color="#efedf5"/><stop offset="1.000" stop-color="#fcfbfd"/></linearGradient></defs>
<rect x="652.2" y="261.0" width="10.10" height="208.30" fill="url(#cbg)" stroke="#262626" stroke-width="0.7"/>
<line x1="662.30" y1="469.30" x2="659.80" y2="469.30" stroke="#606060" stroke-width="0.6" />
<text x="666.20" y="472.10" font-size="12.2" text-anchor="start" font-family="Liberation Serif, serif" fill="#262626" stroke="#262626" stroke-width="0.0" >0</text>
<line x1="662.30" y1="427.64" x2="659.80" y2="427.64" stroke="#606060" stroke-width="0.6" />
<text x="666.20" y="430.44" font-size="12.2" text-anchor="start" font-family="Liberation Serif, serif" fill="#262626" stroke="#262626" stroke-width="0.0" >0.1</text>
<line x1="662.30" y1="385.98" x2="659.80" y2="385.98" stroke="#606060" stroke-width="0.6" />
<text x="666.20" y="388.78" font-size="12.2" text-anchor="start" font-family="Liberation Serif, serif" fill="#262626" stroke="#262626" stroke-width="0.0" >0.2</text>
<line x1="662.30" y1="344.32" x2="659.80" y2="344.32" stroke="#606060" stroke-width="0.6" />
<text x="666.20" y="347.12" font-size="12.2" text-anchor="start" font-family="Liberation Serif, serif" fill="#262626" stroke="#262626" stroke-width="0.0" >0.3</text>
<line x1="662.30" y1="302.66" x2="659.80" y2="302.66" stroke="#606060" stroke-width="0.6" />
<text x="666.20" y="305.46" font-size="12.2" text-anchor="start" font-family="Liberation Serif, serif" fill="#262626" stroke="#262626" stroke-width="0.0" >0.4</text>
<g transform="translate(428.30,288.21) rotate(0)"><g transform="translate(-20.46,0)"><line x1="1.68" y1="-9.00" x2="1.68" y2="3.00" stroke="#262626" stroke-width="0.72"/><line x1="4.40" y1="-3.00" x2="11.60" y2="-3.00" stroke="#262626" stroke-width="0.72"/><line x1="8.00" y1="-6.60" x2="8.00" y2="0.60" stroke="#262626" stroke-width="0.72"/><path d="M13.51,-9.00 L16.27,-3.00 L13.51,3.00" fill="none" stroke="#262626" stroke-width="0.72" stroke-linejoin="miter"/><text x="16.86" y="3.96" font-size="8.64" font-style="italic" font-family="Liberation Serif, serif" fill="#262626">i</text></g></g>
<g transform="translate(461.50,486.50) rotate(0)"><g transform="translate(-10.23,0)"><line x1="1.68" y1="-9.00" x2="1.68" y2="3.00" stroke="#262626" stroke-width="0.72"/><line x1="4.40" y1="-3.00" x2="11.60" y2="-3.00" stroke="#262626" stroke-width="0.72"/><line x1="8.00" y1="-6.60" x2="8.00" y2="0.60" stroke="#262626" stroke-width="0.72"/><path d="M13.51,-9.00 L16.27,-3.00 L13.51,3.00" fill="none" stroke="#262626" stroke-width="0.72" stroke-linejoin="miter"/><text x="16.86" y="3.96" font-size="8.64" font-style="italic" font-family="Liberation Serif, serif" fill="#262626">s</text></g></g>
<g transform="translate(428.30,340.64) rotate(0)"><g transform="translate(-20.46,0)"><line x1="1.68" y1="-9.00" x2="1.68" y2="3.00" stroke="#262626" stroke-width="0.72"/><line x1="4.40" y1="-3.00" x2="11.60" y2="-3.00" stroke="#262626" stroke-width="0.72"/><path d="M13.51,-9.00 L16.27,-3.00 L13.51,3.00" fill="none" stroke="#262626" stroke-width="0.72" stroke-linejoin="miter"/><text x="16.86" y="3.96" font-size="8.64" font-style="italic" font-family="Liberation Serif, serif" fill="#262626">i</text></g></g>
<g transform="translate(514.10,486.50) rotate(0)"><g transform="translate(-10.23,0)"><line x1="1.68" y1="-9.00" x2="1.68" y2="3.00" stroke="#262626" stroke-width="0.72"/><line x1="4.40" y1="-3.00" x2="11.60" y2="-3.00" stroke="#262626" stroke-width="0.72"/><path d="M13.51,-9.00 L16.27,-3.00 L13.51,3.00" fill="none" stroke="#262626" stroke-width="0.72" stroke-linejoin="miter"/><text x="16.86" y="3.96" font-size="8.64" font-style="italic" font-family="Liberation Serif, serif" fill="#262626">s</text></g></g>
<g transform="translate(428.30,393.06) rotate(0)"><g transform="translate(-17.12,0)"><line x1="1.68" y1="-9.00" x2="1.68" y2="3.00" stroke="#262626" stroke-width="0.72"/><text x="3.34" y="0" font-size="12.00" font-family="Liberation Serif, serif" fill="#262626">0</text><path d="M10.18,-9.00 L12.94,-3.00 L10.18,3.00" fill="none" stroke="#262626" stroke-width="0.72" stroke-linejoin="miter"/><text x="13.52" y="3.96" font-size="8.64" font-style="italic" font-family="Liberation Serif, serif" fill="#262626">i</text></g></g>
<g transform="translate(566.70,486.50) rotate(0)"><g transform="translate(-8.56,0)"><line x1="1.68" y1="-9.00" x2="1.68" y2="3.00" stroke="#262626" stroke-width="0.72"/><text x="3.34" y="0" font-size="12.00" font-family="Liberation Serif, serif" fill="#262626">0</text><path d="M10.18,-9.00 L12.94,-3.00 L10.18,3.00" fill="none" stroke="#262626" stroke-width="0.72" stroke-linejoin="miter"/><text x="13.52" y="3.96" font-size="8.64" font-style="italic" font-family="Liberation Serif, serif" fill="#262626">s</text></g></g>
<g transform="translate(428.30,445.49) rotate(0)"><g transform="translate(-17.12,0)"><line x1="1.68" y1="-9.00" x2="1.68" y2="3.00" stroke="#262626" stroke-width="0.72"/><text x="3.34" y="0" font-size="12.00" font-family="Liberation Serif, serif" fill="#262626">1</text><path d="M10.18,-9.00 L12.94,-3.00 L10.18,3.00" fill="none" stroke="#262626" stroke-width="0.72" stroke-linejoin="miter"/><text x="13.52" y="3.96" font-size="8.64" font-style="italic" font-family="Liberation Serif, serif" fill="#262626">i</text></g></g>
<g transform="translate(619.30,486.50) rotate(0)"><g transform="translate(-8.56,0)"><line x1="1.68" y1="-9.00" x2="1.68" y2="3.00" stroke="#262626" stroke-width="0.72"/><text x="3.34" y="0" font-size="12.00" font-family="Liberation Serif, serif" fill="#262626">1</text><path d="M10.18,-9.00 L12.94,-3.00 L10.18,3.00" fill="none" stroke="#262626" stroke-width="0.72" stroke-linejoin="miter"/><text x="13.52" y="3.96" font-size="8.64" font-style="italic" font-family="Liberation Serif, serif" fill="#262626">s</text></g></g>
</svg>
</body></html>
